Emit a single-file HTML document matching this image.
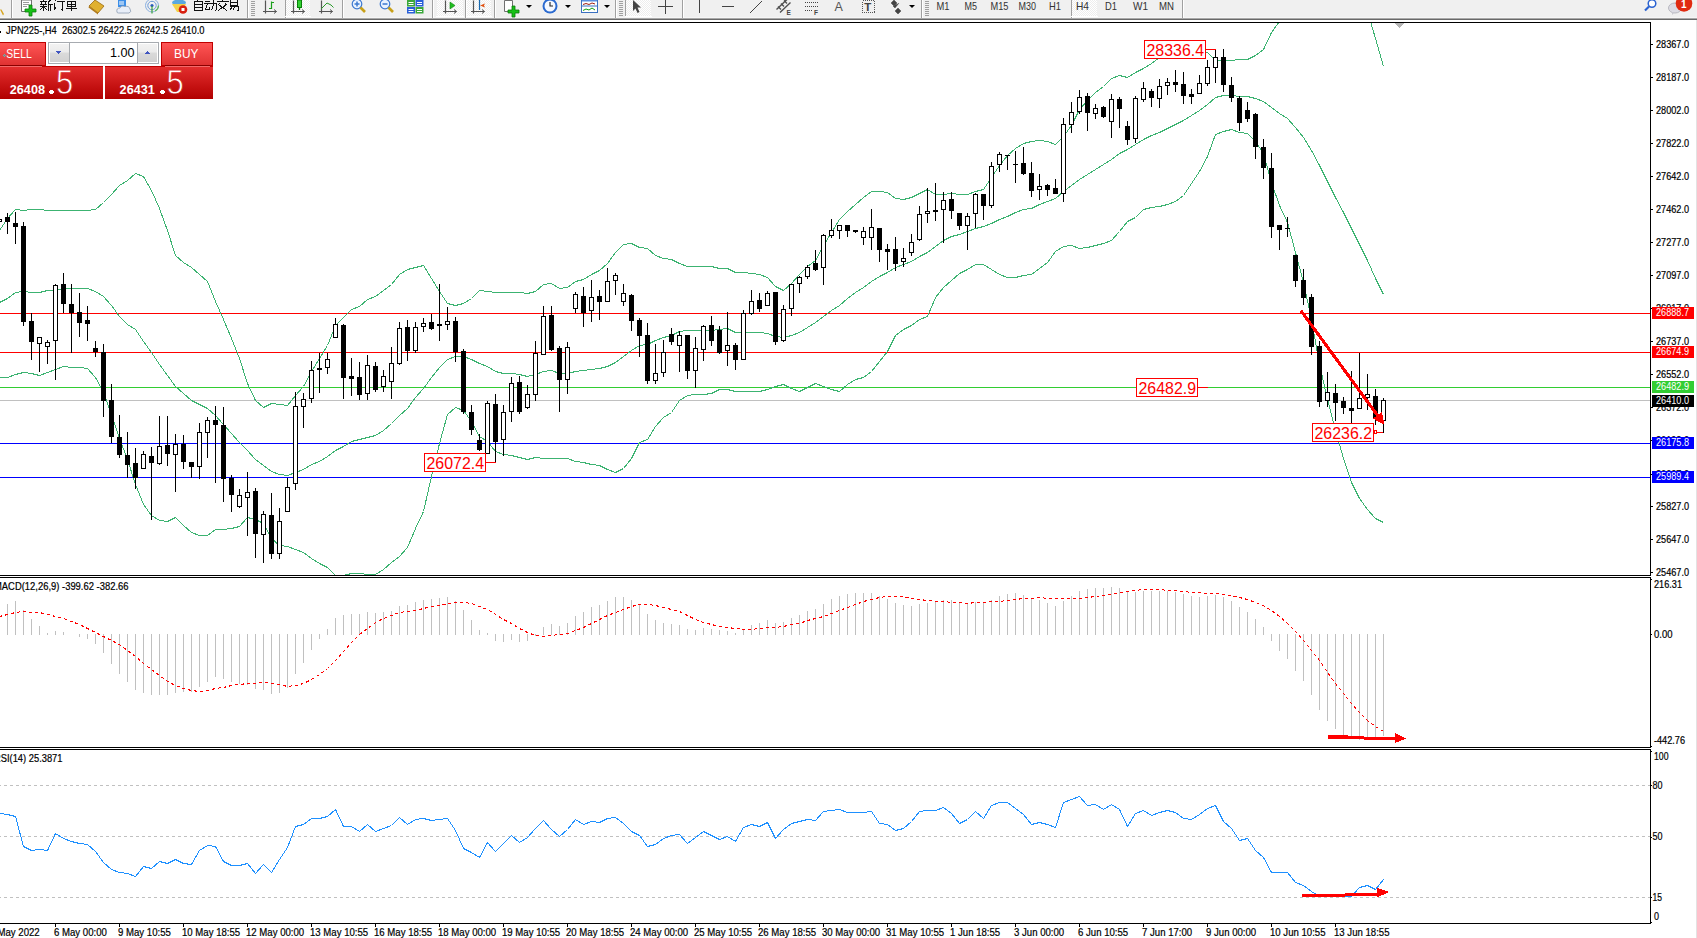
<!DOCTYPE html>
<html><head><meta charset="utf-8"><title>JPN225 H4</title>
<style>html,body{margin:0;padding:0;background:#fff;overflow:hidden}svg{display:block}text{font-family:'Liberation Sans',sans-serif}</style></head>
<body><svg width="1697" height="938" viewBox="0 0 1697 938" shape-rendering="crispEdges" style="font-family:'Liberation Sans',sans-serif">
<defs>
<clipPath id="cmain"><rect x="0" y="23" width="1650" height="552"/></clipPath>
<clipPath id="cmacd"><rect x="0" y="578" width="1650" height="169"/></clipPath>
<clipPath id="crsi"><rect x="0" y="750" width="1650" height="173"/></clipPath>
<linearGradient id="gPrice" x1="0" y1="0" x2="0" y2="1"><stop offset="0" stop-color="#e42f2f"/><stop offset="1" stop-color="#b20000"/></linearGradient>
<linearGradient id="gPriceU" gradientUnits="userSpaceOnUse" x1="0" y1="66" x2="0" y2="99"><stop offset="0" stop-color="#e42f2f"/><stop offset="1" stop-color="#b20000"/></linearGradient>
<linearGradient id="gBtn" x1="0" y1="0" x2="0" y2="1"><stop offset="0" stop-color="#ff5555"/><stop offset="1" stop-color="#e03232"/></linearGradient>
<linearGradient id="gSpin" x1="0" y1="0" x2="0" y2="1"><stop offset="0" stop-color="#f2f2f2"/><stop offset="0.45" stop-color="#ebebeb"/><stop offset="0.5" stop-color="#dadada"/><stop offset="1" stop-color="#d2d2d2"/></linearGradient>
<pattern id="pSel" width="2" height="2" patternUnits="userSpaceOnUse"><rect width="2" height="2" fill="#ffffff"/><rect width="1" height="1" fill="#ededed"/><rect x="1" y="1" width="1" height="1" fill="#ededed"/></pattern>
</defs>
<rect x="0" y="0" width="1697" height="938" fill="#ffffff"/>
<rect x="0" y="0" width="1697" height="17" fill="#f0f0f0"/>
<rect x="0" y="17" width="1697" height="1" fill="#f6f6f6"/>
<rect x="0" y="18" width="1697" height="1" fill="#a9a9a9"/>
<rect x="0" y="19" width="1697" height="1" fill="#696969"/>
<rect x="1696" y="20" width="1" height="918" fill="#e3e3e3"/>
<rect x="0" y="22" width="1651" height="1" fill="#000"/>
<rect x="0" y="575" width="1651" height="1" fill="#000"/>
<rect x="1650" y="22" width="1" height="554" fill="#000"/>
<rect x="0" y="577" width="1651" height="1" fill="#000"/>
<rect x="0" y="747" width="1651" height="1" fill="#000"/>
<rect x="1650" y="577" width="1" height="171" fill="#000"/>
<rect x="0" y="749" width="1651" height="1" fill="#000"/>
<rect x="0" y="923" width="1651" height="1" fill="#000"/>
<rect x="1650" y="749" width="1" height="175" fill="#000"/>
<g clip-path="url(#cmain)">
<rect x="0" y="313" width="1650" height="1" fill="#ff0000"/>
<rect x="0" y="352" width="1650" height="1" fill="#ff0000"/>
<rect x="0" y="387" width="1650" height="1" fill="#32cd32"/>
<rect x="0" y="400" width="1650" height="1" fill="#c0c0c0"/>
<rect x="0" y="443" width="1650" height="1" fill="#0000ff"/>
<rect x="0" y="477" width="1650" height="1" fill="#0000ff"/>
<polyline points="-0.5,230.5 7.5,218.5 15.5,209.5 23.5,210.5 31.5,209.5 39.5,209.5 47.5,210.5 55.5,210.5 63.5,210.5 71.5,210.5 79.5,210.5 87.5,210.5 95.5,209.5 103.5,202.5 111.5,194.5 119.5,185.5 127.5,180.5 135.5,173.5 143.5,176.5 151.5,190.5 159.5,208.5 167.5,230.5 175.5,255.5 183.5,262.5 191.5,267.5 199.5,274.5 207.5,281.5 215.5,301.5 223.5,319.5 231.5,338.5 239.5,358.5 247.5,383.5 255.5,400.5 263.5,407.5 271.5,403.5 279.5,404.5 287.5,405.5 295.5,395.5 303.5,386.5 311.5,371.5 319.5,358.5 327.5,345.5 335.5,325.5 343.5,317.5 351.5,309.5 359.5,306.5 367.5,299.5 375.5,296.5 383.5,290.5 391.5,284.5 399.5,274.5 407.5,269.5 415.5,267.5 423.5,265.5 431.5,278.5 439.5,291.5 447.5,303.5 455.5,305.5 463.5,303.5 471.5,298.5 479.5,290.5 487.5,291.5 495.5,292.5 503.5,292.5 511.5,292.5 519.5,292.5 527.5,293.5 535.5,291.5 543.5,284.5 551.5,283.5 559.5,288.5 567.5,287.5 575.5,281.5 583.5,279.5 591.5,274.5 599.5,270.5 607.5,263.5 615.5,252.5 623.5,244.5 631.5,243.5 639.5,247.5 647.5,248.5 655.5,255.5 663.5,258.5 671.5,259.5 679.5,263.5 687.5,266.5 695.5,266.5 703.5,266.5 711.5,266.5 719.5,268.5 727.5,268.5 735.5,272.5 743.5,272.5 751.5,273.5 759.5,274.5 767.5,277.5 775.5,286.5 783.5,290.5 791.5,283.5 799.5,274.5 807.5,266.5 815.5,260.5 823.5,245.5 831.5,232.5 839.5,219.5 847.5,211.5 855.5,204.5 863.5,197.5 871.5,191.5 879.5,191.5 887.5,192.5 895.5,198.5 903.5,199.5 911.5,197.5 919.5,193.5 927.5,189.5 935.5,194.5 943.5,194.5 951.5,193.5 959.5,194.5 967.5,194.5 975.5,191.5 983.5,189.5 991.5,177.5 999.5,165.5 1007.5,155.5 1015.5,148.5 1023.5,143.5 1031.5,141.5 1039.5,140.5 1047.5,141.5 1055.5,144.5 1063.5,136.5 1071.5,125.5 1079.5,109.5 1087.5,100.5 1095.5,92.5 1103.5,86.5 1111.5,78.5 1119.5,75.5 1127.5,77.5 1135.5,72.5 1143.5,68.5 1151.5,63.5 1159.5,57.5 1167.5,52.5 1175.5,47.5 1183.5,46.5 1191.5,48.5 1199.5,49.5 1207.5,52.5 1215.5,60.5 1223.5,60.5 1231.5,60.5 1239.5,59.5 1247.5,59.5 1255.5,55.5 1263.5,49.5 1271.5,32.5 1279.5,21.5 1287.5,13.5 1295.5,1.5 1303.5,-6.5 1311.5,-19.5 1319.5,-33.5 1327.5,-36.5 1335.5,-36.5 1343.5,-32.5 1351.5,-25.5 1359.5,-10.5 1367.5,11.5 1375.5,38.5 1383.5,66.5" fill="none" stroke="#3cb371" stroke-width="1"/>
<polyline points="-0.5,302.5 7.5,298.5 15.5,292.5 23.5,291.5 31.5,292.5 39.5,292.5 47.5,290.5 55.5,290.5 63.5,288.5 71.5,288.5 79.5,288.5 87.5,288.5 95.5,291.5 103.5,296.5 111.5,305.5 119.5,316.5 127.5,324.5 135.5,329.5 143.5,341.5 151.5,352.5 159.5,364.5 167.5,375.5 175.5,386.5 183.5,393.5 191.5,400.5 199.5,404.5 207.5,408.5 215.5,415.5 223.5,424.5 231.5,433.5 239.5,442.5 247.5,450.5 255.5,459.5 263.5,465.5 271.5,471.5 279.5,474.5 287.5,475.5 295.5,472.5 303.5,469.5 311.5,464.5 319.5,461.5 327.5,456.5 335.5,450.5 343.5,446.5 351.5,441.5 359.5,439.5 367.5,437.5 375.5,435.5 383.5,430.5 391.5,423.5 399.5,415.5 407.5,408.5 415.5,397.5 423.5,388.5 431.5,377.5 439.5,367.5 447.5,359.5 455.5,356.5 463.5,356.5 471.5,359.5 479.5,363.5 487.5,366.5 495.5,371.5 503.5,373.5 511.5,373.5 519.5,374.5 527.5,376.5 535.5,374.5 543.5,371.5 551.5,370.5 559.5,373.5 567.5,373.5 575.5,371.5 583.5,370.5 591.5,369.5 599.5,368.5 607.5,366.5 615.5,362.5 623.5,356.5 631.5,350.5 639.5,345.5 647.5,344.5 655.5,340.5 663.5,337.5 671.5,335.5 679.5,331.5 687.5,330.5 695.5,330.5 703.5,330.5 711.5,330.5 719.5,329.5 727.5,328.5 735.5,332.5 743.5,332.5 751.5,332.5 759.5,332.5 767.5,333.5 775.5,336.5 783.5,337.5 791.5,335.5 799.5,332.5 807.5,327.5 815.5,322.5 823.5,316.5 831.5,310.5 839.5,305.5 847.5,298.5 855.5,292.5 863.5,287.5 871.5,281.5 879.5,276.5 887.5,272.5 895.5,267.5 903.5,264.5 911.5,261.5 919.5,256.5 927.5,252.5 935.5,246.5 943.5,240.5 951.5,236.5 959.5,234.5 967.5,231.5 975.5,228.5 983.5,226.5 991.5,223.5 999.5,219.5 1007.5,216.5 1015.5,212.5 1023.5,209.5 1031.5,208.5 1039.5,204.5 1047.5,201.5 1055.5,198.5 1063.5,191.5 1071.5,185.5 1079.5,179.5 1087.5,174.5 1095.5,169.5 1103.5,164.5 1111.5,159.5 1119.5,153.5 1127.5,149.5 1135.5,144.5 1143.5,139.5 1151.5,135.5 1159.5,132.5 1167.5,128.5 1175.5,124.5 1183.5,120.5 1191.5,115.5 1199.5,110.5 1207.5,104.5 1215.5,97.5 1223.5,95.5 1231.5,95.5 1239.5,96.5 1247.5,96.5 1255.5,98.5 1263.5,101.5 1271.5,107.5 1279.5,113.5 1287.5,118.5 1295.5,127.5 1303.5,137.5 1311.5,150.5 1319.5,165.5 1327.5,181.5 1335.5,197.5 1343.5,212.5 1351.5,228.5 1359.5,244.5 1367.5,260.5 1375.5,278.5 1383.5,294.5" fill="none" stroke="#3cb371" stroke-width="1"/>
<polyline points="-0.5,377.5 7.5,377.5 15.5,374.5 23.5,372.5 31.5,373.5 39.5,375.5 47.5,372.5 55.5,369.5 63.5,366.5 71.5,367.5 79.5,367.5 87.5,368.5 95.5,377.5 103.5,392.5 111.5,414.5 119.5,438.5 127.5,459.5 135.5,484.5 143.5,504.5 151.5,515.5 159.5,520.5 167.5,521.5 175.5,517.5 183.5,525.5 191.5,532.5 199.5,535.5 207.5,535.5 215.5,529.5 223.5,529.5 231.5,528.5 239.5,526.5 247.5,517.5 255.5,519.5 263.5,523.5 271.5,538.5 279.5,545.5 287.5,546.5 295.5,549.5 303.5,552.5 311.5,558.5 319.5,563.5 327.5,567.5 335.5,575.5 343.5,575.5 351.5,573.5 359.5,573.5 367.5,574.5 375.5,574.5 383.5,569.5 391.5,562.5 399.5,556.5 407.5,547.5 415.5,528.5 423.5,511.5 431.5,476.5 439.5,443.5 447.5,414.5 455.5,407.5 463.5,410.5 471.5,421.5 479.5,436.5 487.5,441.5 495.5,451.5 503.5,454.5 511.5,455.5 519.5,457.5 527.5,459.5 535.5,457.5 543.5,458.5 551.5,458.5 559.5,458.5 567.5,458.5 575.5,461.5 583.5,462.5 591.5,464.5 599.5,465.5 607.5,469.5 615.5,472.5 623.5,468.5 631.5,458.5 639.5,442.5 647.5,439.5 655.5,426.5 663.5,417.5 671.5,412.5 679.5,400.5 687.5,395.5 695.5,394.5 703.5,394.5 711.5,393.5 719.5,389.5 727.5,389.5 735.5,391.5 743.5,391.5 751.5,391.5 759.5,391.5 767.5,389.5 775.5,386.5 783.5,384.5 791.5,388.5 799.5,391.5 807.5,387.5 815.5,383.5 823.5,386.5 831.5,389.5 839.5,391.5 847.5,384.5 855.5,379.5 863.5,377.5 871.5,371.5 879.5,361.5 887.5,351.5 895.5,335.5 903.5,329.5 911.5,325.5 919.5,319.5 927.5,316.5 935.5,297.5 943.5,287.5 951.5,280.5 959.5,273.5 967.5,269.5 975.5,264.5 983.5,264.5 991.5,269.5 999.5,274.5 1007.5,277.5 1015.5,277.5 1023.5,275.5 1031.5,274.5 1039.5,268.5 1047.5,262.5 1055.5,251.5 1063.5,246.5 1071.5,245.5 1079.5,248.5 1087.5,247.5 1095.5,245.5 1103.5,243.5 1111.5,240.5 1119.5,231.5 1127.5,221.5 1135.5,217.5 1143.5,209.5 1151.5,207.5 1159.5,206.5 1167.5,204.5 1175.5,201.5 1183.5,195.5 1191.5,183.5 1199.5,171.5 1207.5,156.5 1215.5,134.5 1223.5,131.5 1231.5,129.5 1239.5,132.5 1247.5,133.5 1255.5,141.5 1263.5,153.5 1271.5,182.5 1279.5,205.5 1287.5,222.5 1295.5,252.5 1303.5,282.5 1311.5,319.5 1319.5,364.5 1327.5,399.5 1335.5,430.5 1343.5,458.5 1351.5,482.5 1359.5,498.5 1367.5,509.5 1375.5,518.5 1383.5,522.5" fill="none" stroke="#3cb371" stroke-width="1"/>
<rect x="-1" y="218" width="1" height="5" fill="#000"/>
<rect x="-3" y="219" width="5" height="3" fill="#000"/>
<rect x="-2" y="220" width="3" height="1" fill="#fff"/>
<rect x="7" y="213" width="1" height="21" fill="#000"/>
<rect x="5" y="217" width="5" height="5" fill="#000"/>
<rect x="15" y="212" width="1" height="32" fill="#000"/>
<rect x="13" y="223" width="5" height="4" fill="#000"/>
<rect x="23" y="222" width="1" height="104" fill="#000"/>
<rect x="21" y="226" width="5" height="96" fill="#000"/>
<rect x="31" y="313" width="1" height="47" fill="#000"/>
<rect x="29" y="321" width="5" height="21" fill="#000"/>
<rect x="39" y="337" width="1" height="35" fill="#000"/>
<rect x="37" y="337" width="5" height="7" fill="#000"/>
<rect x="38" y="338" width="3" height="5" fill="#fff"/>
<rect x="47" y="340" width="1" height="24" fill="#000"/>
<rect x="45" y="342" width="5" height="5" fill="#000"/>
<rect x="46" y="343" width="3" height="3" fill="#fff"/>
<rect x="55" y="284" width="1" height="96" fill="#000"/>
<rect x="53" y="285" width="5" height="56" fill="#000"/>
<rect x="54" y="286" width="3" height="54" fill="#fff"/>
<rect x="63" y="273" width="1" height="40" fill="#000"/>
<rect x="61" y="284" width="5" height="20" fill="#000"/>
<rect x="71" y="284" width="1" height="69" fill="#000"/>
<rect x="69" y="304" width="5" height="9" fill="#000"/>
<rect x="79" y="293" width="1" height="44" fill="#000"/>
<rect x="77" y="312" width="5" height="11" fill="#000"/>
<rect x="87" y="306" width="1" height="35" fill="#000"/>
<rect x="85" y="320" width="5" height="4" fill="#000"/>
<rect x="95" y="341" width="1" height="16" fill="#000"/>
<rect x="93" y="348" width="5" height="4" fill="#000"/>
<rect x="103" y="344" width="1" height="73" fill="#000"/>
<rect x="101" y="352" width="5" height="49" fill="#000"/>
<rect x="111" y="384" width="1" height="59" fill="#000"/>
<rect x="109" y="400" width="5" height="37" fill="#000"/>
<rect x="119" y="415" width="1" height="43" fill="#000"/>
<rect x="117" y="437" width="5" height="18" fill="#000"/>
<rect x="127" y="432" width="1" height="46" fill="#000"/>
<rect x="125" y="455" width="5" height="10" fill="#000"/>
<rect x="135" y="448" width="1" height="41" fill="#000"/>
<rect x="133" y="463" width="5" height="15" fill="#000"/>
<rect x="143" y="451" width="1" height="18" fill="#000"/>
<rect x="141" y="454" width="5" height="15" fill="#000"/>
<rect x="142" y="455" width="3" height="13" fill="#fff"/>
<rect x="151" y="447" width="1" height="73" fill="#000"/>
<rect x="149" y="456" width="5" height="7" fill="#000"/>
<rect x="159" y="416" width="1" height="49" fill="#000"/>
<rect x="157" y="446" width="5" height="18" fill="#000"/>
<rect x="158" y="447" width="3" height="16" fill="#fff"/>
<rect x="167" y="416" width="1" height="50" fill="#000"/>
<rect x="165" y="445" width="5" height="9" fill="#000"/>
<rect x="175" y="434" width="1" height="58" fill="#000"/>
<rect x="173" y="444" width="5" height="11" fill="#000"/>
<rect x="174" y="445" width="3" height="9" fill="#fff"/>
<rect x="183" y="435" width="1" height="34" fill="#000"/>
<rect x="181" y="444" width="5" height="18" fill="#000"/>
<rect x="191" y="462" width="1" height="16" fill="#000"/>
<rect x="189" y="462" width="5" height="5" fill="#000"/>
<rect x="199" y="423" width="1" height="56" fill="#000"/>
<rect x="197" y="432" width="5" height="35" fill="#000"/>
<rect x="198" y="433" width="3" height="33" fill="#fff"/>
<rect x="207" y="417" width="1" height="41" fill="#000"/>
<rect x="205" y="420" width="5" height="13" fill="#000"/>
<rect x="206" y="421" width="3" height="11" fill="#fff"/>
<rect x="215" y="406" width="1" height="77" fill="#000"/>
<rect x="213" y="420" width="5" height="5" fill="#000"/>
<rect x="223" y="407" width="1" height="95" fill="#000"/>
<rect x="221" y="425" width="5" height="54" fill="#000"/>
<rect x="231" y="475" width="1" height="37" fill="#000"/>
<rect x="229" y="478" width="5" height="17" fill="#000"/>
<rect x="239" y="489" width="1" height="19" fill="#000"/>
<rect x="237" y="495" width="5" height="12" fill="#000"/>
<rect x="238" y="496" width="3" height="10" fill="#fff"/>
<rect x="247" y="472" width="1" height="64" fill="#000"/>
<rect x="245" y="492" width="5" height="6" fill="#000"/>
<rect x="246" y="493" width="3" height="4" fill="#fff"/>
<rect x="255" y="488" width="1" height="70" fill="#000"/>
<rect x="253" y="491" width="5" height="43" fill="#000"/>
<rect x="263" y="511" width="1" height="52" fill="#000"/>
<rect x="261" y="514" width="5" height="21" fill="#000"/>
<rect x="262" y="515" width="3" height="19" fill="#fff"/>
<rect x="271" y="493" width="1" height="66" fill="#000"/>
<rect x="269" y="515" width="5" height="39" fill="#000"/>
<rect x="279" y="508" width="1" height="51" fill="#000"/>
<rect x="277" y="521" width="5" height="33" fill="#000"/>
<rect x="278" y="522" width="3" height="31" fill="#fff"/>
<rect x="287" y="478" width="1" height="34" fill="#000"/>
<rect x="285" y="487" width="5" height="25" fill="#000"/>
<rect x="286" y="488" width="3" height="23" fill="#fff"/>
<rect x="295" y="392" width="1" height="98" fill="#000"/>
<rect x="293" y="406" width="5" height="78" fill="#000"/>
<rect x="294" y="407" width="3" height="76" fill="#fff"/>
<rect x="303" y="393" width="1" height="35" fill="#000"/>
<rect x="301" y="399" width="5" height="8" fill="#000"/>
<rect x="302" y="400" width="3" height="6" fill="#fff"/>
<rect x="311" y="361" width="1" height="42" fill="#000"/>
<rect x="309" y="370" width="5" height="29" fill="#000"/>
<rect x="310" y="371" width="3" height="27" fill="#fff"/>
<rect x="319" y="353" width="1" height="40" fill="#000"/>
<rect x="317" y="368" width="5" height="2" fill="#000"/>
<rect x="327" y="353" width="1" height="21" fill="#000"/>
<rect x="325" y="359" width="5" height="9" fill="#000"/>
<rect x="326" y="360" width="3" height="7" fill="#fff"/>
<rect x="335" y="318" width="1" height="20" fill="#000"/>
<rect x="333" y="324" width="5" height="14" fill="#000"/>
<rect x="334" y="325" width="3" height="12" fill="#fff"/>
<rect x="343" y="324" width="1" height="75" fill="#000"/>
<rect x="341" y="325" width="5" height="53" fill="#000"/>
<rect x="351" y="358" width="1" height="38" fill="#000"/>
<rect x="349" y="376" width="5" height="3" fill="#000"/>
<rect x="359" y="362" width="1" height="38" fill="#000"/>
<rect x="357" y="377" width="5" height="18" fill="#000"/>
<rect x="367" y="355" width="1" height="45" fill="#000"/>
<rect x="365" y="365" width="5" height="29" fill="#000"/>
<rect x="366" y="366" width="3" height="27" fill="#fff"/>
<rect x="375" y="362" width="1" height="30" fill="#000"/>
<rect x="373" y="366" width="5" height="24" fill="#000"/>
<rect x="383" y="370" width="1" height="22" fill="#000"/>
<rect x="381" y="376" width="5" height="11" fill="#000"/>
<rect x="382" y="377" width="3" height="9" fill="#fff"/>
<rect x="391" y="347" width="1" height="52" fill="#000"/>
<rect x="389" y="363" width="5" height="19" fill="#000"/>
<rect x="390" y="364" width="3" height="17" fill="#fff"/>
<rect x="399" y="322" width="1" height="43" fill="#000"/>
<rect x="397" y="328" width="5" height="36" fill="#000"/>
<rect x="398" y="329" width="3" height="34" fill="#fff"/>
<rect x="407" y="320" width="1" height="41" fill="#000"/>
<rect x="405" y="327" width="5" height="24" fill="#000"/>
<rect x="415" y="322" width="1" height="31" fill="#000"/>
<rect x="413" y="327" width="5" height="24" fill="#000"/>
<rect x="414" y="328" width="3" height="22" fill="#fff"/>
<rect x="423" y="318" width="1" height="14" fill="#000"/>
<rect x="421" y="323" width="5" height="4" fill="#000"/>
<rect x="422" y="324" width="3" height="2" fill="#fff"/>
<rect x="431" y="314" width="1" height="16" fill="#000"/>
<rect x="429" y="322" width="5" height="7" fill="#000"/>
<rect x="439" y="284" width="1" height="57" fill="#000"/>
<rect x="437" y="324" width="5" height="2" fill="#000"/>
<rect x="447" y="307" width="1" height="23" fill="#000"/>
<rect x="445" y="321" width="5" height="4" fill="#000"/>
<rect x="446" y="322" width="3" height="2" fill="#fff"/>
<rect x="455" y="317" width="1" height="45" fill="#000"/>
<rect x="453" y="321" width="5" height="31" fill="#000"/>
<rect x="463" y="349" width="1" height="65" fill="#000"/>
<rect x="461" y="351" width="5" height="61" fill="#000"/>
<rect x="471" y="405" width="1" height="30" fill="#000"/>
<rect x="469" y="412" width="5" height="18" fill="#000"/>
<rect x="479" y="434" width="1" height="17" fill="#000"/>
<rect x="477" y="440" width="5" height="10" fill="#000"/>
<rect x="487" y="401" width="1" height="53" fill="#000"/>
<rect x="485" y="403" width="5" height="51" fill="#000"/>
<rect x="486" y="404" width="3" height="49" fill="#fff"/>
<rect x="495" y="394" width="1" height="68" fill="#000"/>
<rect x="493" y="404" width="5" height="38" fill="#000"/>
<rect x="503" y="405" width="1" height="51" fill="#000"/>
<rect x="501" y="412" width="5" height="28" fill="#000"/>
<rect x="502" y="413" width="3" height="26" fill="#fff"/>
<rect x="511" y="377" width="1" height="45" fill="#000"/>
<rect x="509" y="383" width="5" height="29" fill="#000"/>
<rect x="510" y="384" width="3" height="27" fill="#fff"/>
<rect x="519" y="376" width="1" height="38" fill="#000"/>
<rect x="517" y="382" width="5" height="30" fill="#000"/>
<rect x="527" y="385" width="1" height="24" fill="#000"/>
<rect x="525" y="394" width="5" height="14" fill="#000"/>
<rect x="526" y="395" width="3" height="12" fill="#fff"/>
<rect x="535" y="341" width="1" height="60" fill="#000"/>
<rect x="533" y="353" width="5" height="42" fill="#000"/>
<rect x="534" y="354" width="3" height="40" fill="#fff"/>
<rect x="543" y="306" width="1" height="49" fill="#000"/>
<rect x="541" y="316" width="5" height="39" fill="#000"/>
<rect x="542" y="317" width="3" height="37" fill="#fff"/>
<rect x="551" y="306" width="1" height="45" fill="#000"/>
<rect x="549" y="315" width="5" height="35" fill="#000"/>
<rect x="559" y="346" width="1" height="66" fill="#000"/>
<rect x="557" y="348" width="5" height="32" fill="#000"/>
<rect x="567" y="342" width="1" height="52" fill="#000"/>
<rect x="565" y="347" width="5" height="33" fill="#000"/>
<rect x="566" y="348" width="3" height="31" fill="#fff"/>
<rect x="575" y="292" width="1" height="21" fill="#000"/>
<rect x="573" y="294" width="5" height="15" fill="#000"/>
<rect x="574" y="295" width="3" height="13" fill="#fff"/>
<rect x="583" y="287" width="1" height="40" fill="#000"/>
<rect x="581" y="296" width="5" height="17" fill="#000"/>
<rect x="591" y="280" width="1" height="42" fill="#000"/>
<rect x="589" y="297" width="5" height="14" fill="#000"/>
<rect x="590" y="298" width="3" height="12" fill="#fff"/>
<rect x="599" y="290" width="1" height="30" fill="#000"/>
<rect x="597" y="296" width="5" height="6" fill="#000"/>
<rect x="607" y="268" width="1" height="34" fill="#000"/>
<rect x="605" y="281" width="5" height="21" fill="#000"/>
<rect x="606" y="282" width="3" height="19" fill="#fff"/>
<rect x="615" y="273" width="1" height="22" fill="#000"/>
<rect x="613" y="275" width="5" height="6" fill="#000"/>
<rect x="614" y="276" width="3" height="4" fill="#fff"/>
<rect x="623" y="284" width="1" height="22" fill="#000"/>
<rect x="621" y="293" width="5" height="9" fill="#000"/>
<rect x="622" y="294" width="3" height="7" fill="#fff"/>
<rect x="631" y="294" width="1" height="37" fill="#000"/>
<rect x="629" y="295" width="5" height="26" fill="#000"/>
<rect x="639" y="318" width="1" height="39" fill="#000"/>
<rect x="637" y="320" width="5" height="16" fill="#000"/>
<rect x="647" y="323" width="1" height="61" fill="#000"/>
<rect x="645" y="335" width="5" height="46" fill="#000"/>
<rect x="655" y="344" width="1" height="40" fill="#000"/>
<rect x="653" y="373" width="5" height="8" fill="#000"/>
<rect x="654" y="374" width="3" height="6" fill="#fff"/>
<rect x="663" y="340" width="1" height="37" fill="#000"/>
<rect x="661" y="352" width="5" height="21" fill="#000"/>
<rect x="662" y="353" width="3" height="19" fill="#fff"/>
<rect x="671" y="328" width="1" height="17" fill="#000"/>
<rect x="669" y="334" width="5" height="8" fill="#000"/>
<rect x="679" y="331" width="1" height="41" fill="#000"/>
<rect x="677" y="335" width="5" height="11" fill="#000"/>
<rect x="678" y="336" width="3" height="9" fill="#fff"/>
<rect x="687" y="335" width="1" height="44" fill="#000"/>
<rect x="685" y="335" width="5" height="36" fill="#000"/>
<rect x="695" y="337" width="1" height="51" fill="#000"/>
<rect x="693" y="348" width="5" height="23" fill="#000"/>
<rect x="694" y="349" width="3" height="21" fill="#fff"/>
<rect x="703" y="325" width="1" height="36" fill="#000"/>
<rect x="701" y="326" width="5" height="24" fill="#000"/>
<rect x="702" y="327" width="3" height="22" fill="#fff"/>
<rect x="711" y="316" width="1" height="30" fill="#000"/>
<rect x="709" y="325" width="5" height="16" fill="#000"/>
<rect x="719" y="326" width="1" height="28" fill="#000"/>
<rect x="717" y="330" width="5" height="23" fill="#000"/>
<rect x="727" y="312" width="1" height="54" fill="#000"/>
<rect x="725" y="345" width="5" height="6" fill="#000"/>
<rect x="726" y="346" width="3" height="4" fill="#fff"/>
<rect x="735" y="343" width="1" height="27" fill="#000"/>
<rect x="733" y="345" width="5" height="15" fill="#000"/>
<rect x="743" y="310" width="1" height="50" fill="#000"/>
<rect x="741" y="313" width="5" height="47" fill="#000"/>
<rect x="742" y="314" width="3" height="45" fill="#fff"/>
<rect x="751" y="290" width="1" height="25" fill="#000"/>
<rect x="749" y="301" width="5" height="13" fill="#000"/>
<rect x="750" y="302" width="3" height="11" fill="#fff"/>
<rect x="759" y="293" width="1" height="19" fill="#000"/>
<rect x="757" y="300" width="5" height="9" fill="#000"/>
<rect x="767" y="291" width="1" height="15" fill="#000"/>
<rect x="765" y="293" width="5" height="13" fill="#000"/>
<rect x="766" y="294" width="3" height="11" fill="#fff"/>
<rect x="775" y="292" width="1" height="53" fill="#000"/>
<rect x="773" y="292" width="5" height="50" fill="#000"/>
<rect x="783" y="305" width="1" height="37" fill="#000"/>
<rect x="781" y="309" width="5" height="32" fill="#000"/>
<rect x="782" y="310" width="3" height="30" fill="#fff"/>
<rect x="791" y="284" width="1" height="32" fill="#000"/>
<rect x="789" y="284" width="5" height="25" fill="#000"/>
<rect x="790" y="285" width="3" height="23" fill="#fff"/>
<rect x="799" y="276" width="1" height="17" fill="#000"/>
<rect x="797" y="277" width="5" height="7" fill="#000"/>
<rect x="798" y="278" width="3" height="5" fill="#fff"/>
<rect x="807" y="265" width="1" height="14" fill="#000"/>
<rect x="805" y="267" width="5" height="10" fill="#000"/>
<rect x="806" y="268" width="3" height="8" fill="#fff"/>
<rect x="815" y="250" width="1" height="21" fill="#000"/>
<rect x="813" y="263" width="5" height="7" fill="#000"/>
<rect x="823" y="234" width="1" height="51" fill="#000"/>
<rect x="821" y="235" width="5" height="33" fill="#000"/>
<rect x="822" y="236" width="3" height="31" fill="#fff"/>
<rect x="831" y="219" width="1" height="19" fill="#000"/>
<rect x="829" y="230" width="5" height="6" fill="#000"/>
<rect x="830" y="231" width="3" height="4" fill="#fff"/>
<rect x="839" y="225" width="1" height="14" fill="#000"/>
<rect x="837" y="225" width="5" height="6" fill="#000"/>
<rect x="838" y="226" width="3" height="4" fill="#fff"/>
<rect x="847" y="225" width="1" height="12" fill="#000"/>
<rect x="845" y="225" width="5" height="6" fill="#000"/>
<rect x="855" y="230" width="1" height="3" fill="#000"/>
<rect x="853" y="230" width="5" height="2" fill="#000"/>
<rect x="863" y="227" width="1" height="18" fill="#000"/>
<rect x="861" y="231" width="5" height="7" fill="#000"/>
<rect x="862" y="232" width="3" height="5" fill="#fff"/>
<rect x="871" y="209" width="1" height="41" fill="#000"/>
<rect x="869" y="227" width="5" height="11" fill="#000"/>
<rect x="870" y="228" width="3" height="9" fill="#fff"/>
<rect x="879" y="228" width="1" height="34" fill="#000"/>
<rect x="877" y="228" width="5" height="22" fill="#000"/>
<rect x="887" y="244" width="1" height="26" fill="#000"/>
<rect x="885" y="249" width="5" height="3" fill="#000"/>
<rect x="895" y="237" width="1" height="34" fill="#000"/>
<rect x="893" y="249" width="5" height="15" fill="#000"/>
<rect x="903" y="248" width="1" height="19" fill="#000"/>
<rect x="901" y="258" width="5" height="4" fill="#000"/>
<rect x="902" y="259" width="3" height="2" fill="#fff"/>
<rect x="911" y="234" width="1" height="22" fill="#000"/>
<rect x="909" y="242" width="5" height="11" fill="#000"/>
<rect x="910" y="243" width="3" height="9" fill="#fff"/>
<rect x="919" y="206" width="1" height="35" fill="#000"/>
<rect x="917" y="214" width="5" height="26" fill="#000"/>
<rect x="918" y="215" width="3" height="24" fill="#fff"/>
<rect x="927" y="188" width="1" height="35" fill="#000"/>
<rect x="925" y="211" width="5" height="3" fill="#000"/>
<rect x="926" y="212" width="3" height="1" fill="#fff"/>
<rect x="935" y="183" width="1" height="38" fill="#000"/>
<rect x="933" y="210" width="5" height="2" fill="#000"/>
<rect x="943" y="192" width="1" height="51" fill="#000"/>
<rect x="941" y="200" width="5" height="10" fill="#000"/>
<rect x="942" y="201" width="3" height="8" fill="#fff"/>
<rect x="951" y="192" width="1" height="27" fill="#000"/>
<rect x="949" y="199" width="5" height="12" fill="#000"/>
<rect x="959" y="213" width="1" height="17" fill="#000"/>
<rect x="957" y="213" width="5" height="13" fill="#000"/>
<rect x="967" y="213" width="1" height="37" fill="#000"/>
<rect x="965" y="216" width="5" height="10" fill="#000"/>
<rect x="966" y="217" width="3" height="8" fill="#fff"/>
<rect x="975" y="193" width="1" height="35" fill="#000"/>
<rect x="973" y="194" width="5" height="20" fill="#000"/>
<rect x="974" y="195" width="3" height="18" fill="#fff"/>
<rect x="983" y="194" width="1" height="26" fill="#000"/>
<rect x="981" y="194" width="5" height="12" fill="#000"/>
<rect x="991" y="162" width="1" height="46" fill="#000"/>
<rect x="989" y="166" width="5" height="40" fill="#000"/>
<rect x="990" y="167" width="3" height="38" fill="#fff"/>
<rect x="999" y="152" width="1" height="20" fill="#000"/>
<rect x="997" y="154" width="5" height="11" fill="#000"/>
<rect x="998" y="155" width="3" height="9" fill="#fff"/>
<rect x="1007" y="155" width="1" height="15" fill="#000"/>
<rect x="1005" y="155" width="5" height="1" fill="#000"/>
<rect x="1015" y="151" width="1" height="32" fill="#000"/>
<rect x="1013" y="164" width="5" height="1" fill="#000"/>
<rect x="1023" y="147" width="1" height="28" fill="#000"/>
<rect x="1021" y="163" width="5" height="11" fill="#000"/>
<rect x="1031" y="162" width="1" height="35" fill="#000"/>
<rect x="1029" y="173" width="5" height="18" fill="#000"/>
<rect x="1039" y="174" width="1" height="26" fill="#000"/>
<rect x="1037" y="186" width="5" height="4" fill="#000"/>
<rect x="1038" y="187" width="3" height="2" fill="#fff"/>
<rect x="1047" y="184" width="1" height="12" fill="#000"/>
<rect x="1045" y="185" width="5" height="5" fill="#000"/>
<rect x="1055" y="179" width="1" height="15" fill="#000"/>
<rect x="1053" y="188" width="5" height="6" fill="#000"/>
<rect x="1063" y="118" width="1" height="84" fill="#000"/>
<rect x="1061" y="124" width="5" height="70" fill="#000"/>
<rect x="1062" y="125" width="3" height="68" fill="#fff"/>
<rect x="1071" y="102" width="1" height="31" fill="#000"/>
<rect x="1069" y="112" width="5" height="13" fill="#000"/>
<rect x="1070" y="113" width="3" height="11" fill="#fff"/>
<rect x="1079" y="90" width="1" height="24" fill="#000"/>
<rect x="1077" y="97" width="5" height="15" fill="#000"/>
<rect x="1078" y="98" width="3" height="13" fill="#fff"/>
<rect x="1087" y="93" width="1" height="38" fill="#000"/>
<rect x="1085" y="96" width="5" height="17" fill="#000"/>
<rect x="1095" y="104" width="1" height="15" fill="#000"/>
<rect x="1093" y="108" width="5" height="6" fill="#000"/>
<rect x="1094" y="109" width="3" height="4" fill="#fff"/>
<rect x="1103" y="106" width="1" height="12" fill="#000"/>
<rect x="1101" y="107" width="5" height="10" fill="#000"/>
<rect x="1111" y="94" width="1" height="44" fill="#000"/>
<rect x="1109" y="99" width="5" height="23" fill="#000"/>
<rect x="1110" y="100" width="3" height="21" fill="#fff"/>
<rect x="1119" y="97" width="1" height="31" fill="#000"/>
<rect x="1117" y="99" width="5" height="10" fill="#000"/>
<rect x="1127" y="121" width="1" height="24" fill="#000"/>
<rect x="1125" y="126" width="5" height="14" fill="#000"/>
<rect x="1135" y="96" width="1" height="47" fill="#000"/>
<rect x="1133" y="98" width="5" height="41" fill="#000"/>
<rect x="1134" y="99" width="3" height="39" fill="#fff"/>
<rect x="1143" y="82" width="1" height="20" fill="#000"/>
<rect x="1141" y="88" width="5" height="12" fill="#000"/>
<rect x="1142" y="89" width="3" height="10" fill="#fff"/>
<rect x="1151" y="89" width="1" height="18" fill="#000"/>
<rect x="1149" y="91" width="5" height="7" fill="#000"/>
<rect x="1159" y="79" width="1" height="29" fill="#000"/>
<rect x="1157" y="86" width="5" height="13" fill="#000"/>
<rect x="1158" y="87" width="3" height="11" fill="#fff"/>
<rect x="1167" y="78" width="1" height="17" fill="#000"/>
<rect x="1165" y="82" width="5" height="4" fill="#000"/>
<rect x="1166" y="83" width="3" height="2" fill="#fff"/>
<rect x="1175" y="70" width="1" height="22" fill="#000"/>
<rect x="1173" y="82" width="5" height="3" fill="#000"/>
<rect x="1183" y="72" width="1" height="32" fill="#000"/>
<rect x="1181" y="84" width="5" height="12" fill="#000"/>
<rect x="1191" y="89" width="1" height="15" fill="#000"/>
<rect x="1189" y="94" width="5" height="3" fill="#000"/>
<rect x="1199" y="75" width="1" height="19" fill="#000"/>
<rect x="1197" y="83" width="5" height="11" fill="#000"/>
<rect x="1198" y="84" width="3" height="9" fill="#fff"/>
<rect x="1207" y="60" width="1" height="26" fill="#000"/>
<rect x="1205" y="67" width="5" height="17" fill="#000"/>
<rect x="1206" y="68" width="3" height="15" fill="#fff"/>
<rect x="1215" y="49" width="1" height="34" fill="#000"/>
<rect x="1213" y="57" width="5" height="11" fill="#000"/>
<rect x="1214" y="58" width="3" height="9" fill="#fff"/>
<rect x="1223" y="49" width="1" height="43" fill="#000"/>
<rect x="1221" y="57" width="5" height="28" fill="#000"/>
<rect x="1231" y="77" width="1" height="25" fill="#000"/>
<rect x="1229" y="85" width="5" height="13" fill="#000"/>
<rect x="1239" y="96" width="1" height="35" fill="#000"/>
<rect x="1237" y="98" width="5" height="25" fill="#000"/>
<rect x="1247" y="102" width="1" height="20" fill="#000"/>
<rect x="1245" y="110" width="5" height="9" fill="#000"/>
<rect x="1255" y="113" width="1" height="46" fill="#000"/>
<rect x="1253" y="114" width="5" height="33" fill="#000"/>
<rect x="1263" y="139" width="1" height="40" fill="#000"/>
<rect x="1261" y="147" width="5" height="21" fill="#000"/>
<rect x="1271" y="153" width="1" height="85" fill="#000"/>
<rect x="1269" y="168" width="5" height="59" fill="#000"/>
<rect x="1279" y="225" width="1" height="25" fill="#000"/>
<rect x="1277" y="225" width="5" height="5" fill="#000"/>
<rect x="1287" y="217" width="1" height="20" fill="#000"/>
<rect x="1285" y="228" width="5" height="1" fill="#000"/>
<rect x="1295" y="255" width="1" height="32" fill="#000"/>
<rect x="1293" y="255" width="5" height="26" fill="#000"/>
<rect x="1303" y="269" width="1" height="36" fill="#000"/>
<rect x="1301" y="280" width="5" height="18" fill="#000"/>
<rect x="1311" y="294" width="1" height="61" fill="#000"/>
<rect x="1309" y="297" width="5" height="50" fill="#000"/>
<rect x="1319" y="341" width="1" height="66" fill="#000"/>
<rect x="1317" y="346" width="5" height="56" fill="#000"/>
<rect x="1327" y="372" width="1" height="35" fill="#000"/>
<rect x="1325" y="392" width="5" height="9" fill="#000"/>
<rect x="1326" y="393" width="3" height="7" fill="#fff"/>
<rect x="1335" y="384" width="1" height="37" fill="#000"/>
<rect x="1333" y="393" width="5" height="10" fill="#000"/>
<rect x="1343" y="397" width="1" height="17" fill="#000"/>
<rect x="1341" y="401" width="5" height="7" fill="#000"/>
<rect x="1351" y="371" width="1" height="52" fill="#000"/>
<rect x="1349" y="408" width="5" height="3" fill="#000"/>
<rect x="1359" y="353" width="1" height="56" fill="#000"/>
<rect x="1357" y="398" width="5" height="11" fill="#000"/>
<rect x="1358" y="399" width="3" height="9" fill="#fff"/>
<rect x="1367" y="374" width="1" height="36" fill="#000"/>
<rect x="1365" y="394" width="5" height="4" fill="#000"/>
<rect x="1366" y="395" width="3" height="2" fill="#fff"/>
<rect x="1375" y="389" width="1" height="36" fill="#000"/>
<rect x="1373" y="396" width="5" height="23" fill="#000"/>
<rect x="1383" y="398" width="1" height="35" fill="#000"/>
<rect x="1381" y="400" width="5" height="21" fill="#000"/>
<rect x="1382" y="401" width="3" height="19" fill="#fff"/>
</g>
<rect x="1144" y="40" width="62" height="19" fill="#ff0000"/>
<rect x="1145" y="41" width="60" height="17" fill="#ffffff"/>
<text x="1146.5" y="56.3" font-size="16.5" fill="#ff0000" textLength="57.5" lengthAdjust="spacingAndGlyphs">28336.4</text>
<rect x="1206" y="49" width="10" height="1" fill="#ff0000"/>
<rect x="1198" y="387" width="10" height="1" fill="#ff0000"/>
<rect x="1136" y="378" width="62" height="19" fill="#ff0000"/>
<rect x="1137" y="379" width="60" height="17" fill="#ffffff"/>
<text x="1138.5" y="394.3" font-size="16.5" fill="#ff0000" textLength="57.5" lengthAdjust="spacingAndGlyphs">26482.9</text>
<rect x="424" y="453" width="62" height="19" fill="#ff0000"/>
<rect x="425" y="454" width="60" height="17" fill="#ffffff"/>
<text x="426.5" y="468.8" font-size="16.5" fill="#ff0000" textLength="57.5" lengthAdjust="spacingAndGlyphs">26072.4</text>
<rect x="486" y="462" width="10" height="1" fill="#ff0000"/>
<rect x="1312" y="423" width="62" height="19" fill="#ff0000"/>
<rect x="1313" y="424" width="60" height="17" fill="#ffffff"/>
<text x="1314.5" y="439.3" font-size="16.5" fill="#ff0000" textLength="57.5" lengthAdjust="spacingAndGlyphs">26236.2</text>
<rect x="1374" y="430" width="3" height="4" fill="#ff0000"/>
<rect x="1375" y="431" width="1" height="2" fill="#ffffff"/>
<rect x="1377" y="432" width="6" height="1" fill="#ff0000"/>
<line x1="1301" y1="310.8" x2="1378.6" y2="416.9" stroke="#ff0000" stroke-width="3.1"/>
<polygon points="1384.5,425 1373.0,418.6 1381.9,412.1" fill="#ff0000"/>
<rect x="1651" y="44" width="2" height="1" fill="#000"/>
<text x="1656" y="48" font-size="10.3" fill="#000" textLength="33" lengthAdjust="spacingAndGlyphs" stroke="#000" stroke-width="0.2">28367.0</text>
<rect x="1651" y="77" width="2" height="1" fill="#000"/>
<text x="1656" y="81" font-size="10.3" fill="#000" textLength="33" lengthAdjust="spacingAndGlyphs" stroke="#000" stroke-width="0.2">28187.0</text>
<rect x="1651" y="110" width="2" height="1" fill="#000"/>
<text x="1656" y="114" font-size="10.3" fill="#000" textLength="33" lengthAdjust="spacingAndGlyphs" stroke="#000" stroke-width="0.2">28002.0</text>
<rect x="1651" y="143" width="2" height="1" fill="#000"/>
<text x="1656" y="147" font-size="10.3" fill="#000" textLength="33" lengthAdjust="spacingAndGlyphs" stroke="#000" stroke-width="0.2">27822.0</text>
<rect x="1651" y="176" width="2" height="1" fill="#000"/>
<text x="1656" y="180" font-size="10.3" fill="#000" textLength="33" lengthAdjust="spacingAndGlyphs" stroke="#000" stroke-width="0.2">27642.0</text>
<rect x="1651" y="209" width="2" height="1" fill="#000"/>
<text x="1656" y="213" font-size="10.3" fill="#000" textLength="33" lengthAdjust="spacingAndGlyphs" stroke="#000" stroke-width="0.2">27462.0</text>
<rect x="1651" y="242" width="2" height="1" fill="#000"/>
<text x="1656" y="246" font-size="10.3" fill="#000" textLength="33" lengthAdjust="spacingAndGlyphs" stroke="#000" stroke-width="0.2">27277.0</text>
<rect x="1651" y="275" width="2" height="1" fill="#000"/>
<text x="1656" y="279" font-size="10.3" fill="#000" textLength="33" lengthAdjust="spacingAndGlyphs" stroke="#000" stroke-width="0.2">27097.0</text>
<rect x="1651" y="308" width="2" height="1" fill="#000"/>
<text x="1656" y="312" font-size="10.3" fill="#000" textLength="33" lengthAdjust="spacingAndGlyphs" stroke="#000" stroke-width="0.2">26917.0</text>
<rect x="1651" y="341" width="2" height="1" fill="#000"/>
<text x="1656" y="345" font-size="10.3" fill="#000" textLength="33" lengthAdjust="spacingAndGlyphs" stroke="#000" stroke-width="0.2">26737.0</text>
<rect x="1651" y="374" width="2" height="1" fill="#000"/>
<text x="1656" y="378" font-size="10.3" fill="#000" textLength="33" lengthAdjust="spacingAndGlyphs" stroke="#000" stroke-width="0.2">26552.0</text>
<rect x="1651" y="407" width="2" height="1" fill="#000"/>
<text x="1656" y="411" font-size="10.3" fill="#000" textLength="33" lengthAdjust="spacingAndGlyphs" stroke="#000" stroke-width="0.2">26372.0</text>
<rect x="1651" y="440" width="2" height="1" fill="#000"/>
<text x="1656" y="444" font-size="10.3" fill="#000" textLength="33" lengthAdjust="spacingAndGlyphs" stroke="#000" stroke-width="0.2">26192.0</text>
<rect x="1651" y="474" width="2" height="1" fill="#000"/>
<text x="1656" y="478" font-size="10.3" fill="#000" textLength="33" lengthAdjust="spacingAndGlyphs" stroke="#000" stroke-width="0.2">26007.0</text>
<rect x="1651" y="506" width="2" height="1" fill="#000"/>
<text x="1656" y="510" font-size="10.3" fill="#000" textLength="33" lengthAdjust="spacingAndGlyphs" stroke="#000" stroke-width="0.2">25827.0</text>
<rect x="1651" y="539" width="2" height="1" fill="#000"/>
<text x="1656" y="543" font-size="10.3" fill="#000" textLength="33" lengthAdjust="spacingAndGlyphs" stroke="#000" stroke-width="0.2">25647.0</text>
<rect x="1651" y="572" width="2" height="1" fill="#000"/>
<text x="1656" y="576" font-size="10.3" fill="#000" textLength="33" lengthAdjust="spacingAndGlyphs" stroke="#000" stroke-width="0.2">25467.0</text>
<rect x="1652" y="307" width="42" height="12" fill="#ff0000"/>
<text x="1656" y="316" font-size="10.3" fill="#fff" textLength="33" lengthAdjust="spacingAndGlyphs">26888.7</text>
<rect x="1652" y="346" width="42" height="12" fill="#ff0000"/>
<text x="1656" y="355" font-size="10.3" fill="#fff" textLength="33" lengthAdjust="spacingAndGlyphs">26674.9</text>
<rect x="1652" y="381" width="42" height="12" fill="#32cd32"/>
<text x="1656" y="390" font-size="10.3" fill="#fff" textLength="33" lengthAdjust="spacingAndGlyphs">26482.9</text>
<rect x="1652" y="395" width="42" height="12" fill="#000000"/>
<text x="1656" y="404" font-size="10.3" fill="#fff" textLength="33" lengthAdjust="spacingAndGlyphs">26410.0</text>
<rect x="1652" y="437" width="42" height="12" fill="#0000ff"/>
<text x="1656" y="446" font-size="10.3" fill="#fff" textLength="33" lengthAdjust="spacingAndGlyphs">26175.8</text>
<rect x="1652" y="471" width="42" height="12" fill="#0000ff"/>
<text x="1656" y="480" font-size="10.3" fill="#fff" textLength="33" lengthAdjust="spacingAndGlyphs">25989.4</text>
<g clip-path="url(#cmacd)">
<rect x="-1" y="609" width="1" height="26" fill="#c0c0c0"/>
<rect x="7" y="604" width="1" height="31" fill="#c0c0c0"/>
<rect x="15" y="601" width="1" height="34" fill="#c0c0c0"/>
<rect x="23" y="610" width="1" height="25" fill="#c0c0c0"/>
<rect x="31" y="619" width="1" height="16" fill="#c0c0c0"/>
<rect x="39" y="626" width="1" height="9" fill="#c0c0c0"/>
<rect x="47" y="633" width="1" height="2" fill="#c0c0c0"/>
<rect x="55" y="631" width="1" height="4" fill="#c0c0c0"/>
<rect x="63" y="632" width="1" height="3" fill="#c0c0c0"/>
<rect x="79" y="634" width="1" height="3" fill="#c0c0c0"/>
<rect x="87" y="634" width="1" height="5" fill="#c0c0c0"/>
<rect x="95" y="634" width="1" height="10" fill="#c0c0c0"/>
<rect x="103" y="634" width="1" height="19" fill="#c0c0c0"/>
<rect x="111" y="634" width="1" height="30" fill="#c0c0c0"/>
<rect x="119" y="634" width="1" height="40" fill="#c0c0c0"/>
<rect x="127" y="634" width="1" height="48" fill="#c0c0c0"/>
<rect x="135" y="634" width="1" height="56" fill="#c0c0c0"/>
<rect x="143" y="634" width="1" height="59" fill="#c0c0c0"/>
<rect x="151" y="634" width="1" height="61" fill="#c0c0c0"/>
<rect x="159" y="634" width="1" height="61" fill="#c0c0c0"/>
<rect x="167" y="634" width="1" height="61" fill="#c0c0c0"/>
<rect x="175" y="634" width="1" height="59" fill="#c0c0c0"/>
<rect x="183" y="634" width="1" height="58" fill="#c0c0c0"/>
<rect x="191" y="634" width="1" height="58" fill="#c0c0c0"/>
<rect x="199" y="634" width="1" height="53" fill="#c0c0c0"/>
<rect x="207" y="634" width="1" height="48" fill="#c0c0c0"/>
<rect x="215" y="634" width="1" height="43" fill="#c0c0c0"/>
<rect x="223" y="634" width="1" height="45" fill="#c0c0c0"/>
<rect x="231" y="634" width="1" height="48" fill="#c0c0c0"/>
<rect x="239" y="634" width="1" height="50" fill="#c0c0c0"/>
<rect x="247" y="634" width="1" height="51" fill="#c0c0c0"/>
<rect x="255" y="634" width="1" height="55" fill="#c0c0c0"/>
<rect x="263" y="634" width="1" height="56" fill="#c0c0c0"/>
<rect x="271" y="634" width="1" height="60" fill="#c0c0c0"/>
<rect x="279" y="634" width="1" height="59" fill="#c0c0c0"/>
<rect x="287" y="634" width="1" height="54" fill="#c0c0c0"/>
<rect x="295" y="634" width="1" height="40" fill="#c0c0c0"/>
<rect x="303" y="634" width="1" height="29" fill="#c0c0c0"/>
<rect x="311" y="634" width="1" height="16" fill="#c0c0c0"/>
<rect x="319" y="634" width="1" height="5" fill="#c0c0c0"/>
<rect x="327" y="629" width="1" height="6" fill="#c0c0c0"/>
<rect x="335" y="618" width="1" height="17" fill="#c0c0c0"/>
<rect x="343" y="615" width="1" height="20" fill="#c0c0c0"/>
<rect x="351" y="614" width="1" height="21" fill="#c0c0c0"/>
<rect x="359" y="614" width="1" height="21" fill="#c0c0c0"/>
<rect x="367" y="612" width="1" height="23" fill="#c0c0c0"/>
<rect x="375" y="613" width="1" height="22" fill="#c0c0c0"/>
<rect x="383" y="612" width="1" height="23" fill="#c0c0c0"/>
<rect x="391" y="611" width="1" height="24" fill="#c0c0c0"/>
<rect x="399" y="606" width="1" height="29" fill="#c0c0c0"/>
<rect x="407" y="605" width="1" height="30" fill="#c0c0c0"/>
<rect x="415" y="602" width="1" height="33" fill="#c0c0c0"/>
<rect x="423" y="600" width="1" height="35" fill="#c0c0c0"/>
<rect x="431" y="599" width="1" height="36" fill="#c0c0c0"/>
<rect x="439" y="598" width="1" height="37" fill="#c0c0c0"/>
<rect x="447" y="597" width="1" height="38" fill="#c0c0c0"/>
<rect x="455" y="601" width="1" height="34" fill="#c0c0c0"/>
<rect x="463" y="610" width="1" height="25" fill="#c0c0c0"/>
<rect x="471" y="620" width="1" height="15" fill="#c0c0c0"/>
<rect x="479" y="630" width="1" height="5" fill="#c0c0c0"/>
<rect x="487" y="633" width="1" height="2" fill="#c0c0c0"/>
<rect x="495" y="634" width="1" height="7" fill="#c0c0c0"/>
<rect x="503" y="634" width="1" height="8" fill="#c0c0c0"/>
<rect x="511" y="634" width="1" height="6" fill="#c0c0c0"/>
<rect x="519" y="634" width="1" height="8" fill="#c0c0c0"/>
<rect x="527" y="634" width="1" height="7" fill="#c0c0c0"/>
<rect x="535" y="634" width="1" height="2" fill="#c0c0c0"/>
<rect x="543" y="627" width="1" height="8" fill="#c0c0c0"/>
<rect x="551" y="624" width="1" height="11" fill="#c0c0c0"/>
<rect x="559" y="626" width="1" height="9" fill="#c0c0c0"/>
<rect x="567" y="623" width="1" height="12" fill="#c0c0c0"/>
<rect x="575" y="616" width="1" height="19" fill="#c0c0c0"/>
<rect x="583" y="612" width="1" height="23" fill="#c0c0c0"/>
<rect x="591" y="607" width="1" height="28" fill="#c0c0c0"/>
<rect x="599" y="605" width="1" height="30" fill="#c0c0c0"/>
<rect x="607" y="601" width="1" height="34" fill="#c0c0c0"/>
<rect x="615" y="597" width="1" height="38" fill="#c0c0c0"/>
<rect x="623" y="597" width="1" height="38" fill="#c0c0c0"/>
<rect x="631" y="600" width="1" height="35" fill="#c0c0c0"/>
<rect x="639" y="605" width="1" height="30" fill="#c0c0c0"/>
<rect x="647" y="614" width="1" height="21" fill="#c0c0c0"/>
<rect x="655" y="620" width="1" height="15" fill="#c0c0c0"/>
<rect x="663" y="623" width="1" height="12" fill="#c0c0c0"/>
<rect x="671" y="624" width="1" height="11" fill="#c0c0c0"/>
<rect x="679" y="625" width="1" height="10" fill="#c0c0c0"/>
<rect x="687" y="629" width="1" height="6" fill="#c0c0c0"/>
<rect x="695" y="630" width="1" height="5" fill="#c0c0c0"/>
<rect x="703" y="628" width="1" height="7" fill="#c0c0c0"/>
<rect x="711" y="629" width="1" height="6" fill="#c0c0c0"/>
<rect x="719" y="630" width="1" height="5" fill="#c0c0c0"/>
<rect x="727" y="631" width="1" height="4" fill="#c0c0c0"/>
<rect x="735" y="633" width="1" height="2" fill="#c0c0c0"/>
<rect x="743" y="629" width="1" height="6" fill="#c0c0c0"/>
<rect x="751" y="625" width="1" height="10" fill="#c0c0c0"/>
<rect x="759" y="623" width="1" height="12" fill="#c0c0c0"/>
<rect x="767" y="620" width="1" height="15" fill="#c0c0c0"/>
<rect x="775" y="623" width="1" height="12" fill="#c0c0c0"/>
<rect x="783" y="622" width="1" height="13" fill="#c0c0c0"/>
<rect x="791" y="618" width="1" height="17" fill="#c0c0c0"/>
<rect x="799" y="615" width="1" height="20" fill="#c0c0c0"/>
<rect x="807" y="611" width="1" height="24" fill="#c0c0c0"/>
<rect x="815" y="609" width="1" height="26" fill="#c0c0c0"/>
<rect x="823" y="604" width="1" height="31" fill="#c0c0c0"/>
<rect x="831" y="599" width="1" height="36" fill="#c0c0c0"/>
<rect x="839" y="596" width="1" height="39" fill="#c0c0c0"/>
<rect x="847" y="594" width="1" height="41" fill="#c0c0c0"/>
<rect x="855" y="593" width="1" height="42" fill="#c0c0c0"/>
<rect x="863" y="593" width="1" height="42" fill="#c0c0c0"/>
<rect x="871" y="593" width="1" height="42" fill="#c0c0c0"/>
<rect x="879" y="596" width="1" height="39" fill="#c0c0c0"/>
<rect x="887" y="599" width="1" height="36" fill="#c0c0c0"/>
<rect x="895" y="603" width="1" height="32" fill="#c0c0c0"/>
<rect x="903" y="605" width="1" height="30" fill="#c0c0c0"/>
<rect x="911" y="606" width="1" height="29" fill="#c0c0c0"/>
<rect x="919" y="604" width="1" height="31" fill="#c0c0c0"/>
<rect x="927" y="603" width="1" height="32" fill="#c0c0c0"/>
<rect x="935" y="602" width="1" height="33" fill="#c0c0c0"/>
<rect x="943" y="600" width="1" height="35" fill="#c0c0c0"/>
<rect x="951" y="600" width="1" height="35" fill="#c0c0c0"/>
<rect x="959" y="603" width="1" height="32" fill="#c0c0c0"/>
<rect x="967" y="604" width="1" height="31" fill="#c0c0c0"/>
<rect x="975" y="602" width="1" height="33" fill="#c0c0c0"/>
<rect x="983" y="603" width="1" height="32" fill="#c0c0c0"/>
<rect x="991" y="600" width="1" height="35" fill="#c0c0c0"/>
<rect x="999" y="596" width="1" height="39" fill="#c0c0c0"/>
<rect x="1007" y="594" width="1" height="41" fill="#c0c0c0"/>
<rect x="1015" y="593" width="1" height="42" fill="#c0c0c0"/>
<rect x="1023" y="595" width="1" height="40" fill="#c0c0c0"/>
<rect x="1031" y="598" width="1" height="37" fill="#c0c0c0"/>
<rect x="1039" y="600" width="1" height="35" fill="#c0c0c0"/>
<rect x="1047" y="603" width="1" height="32" fill="#c0c0c0"/>
<rect x="1055" y="606" width="1" height="29" fill="#c0c0c0"/>
<rect x="1063" y="601" width="1" height="34" fill="#c0c0c0"/>
<rect x="1071" y="596" width="1" height="39" fill="#c0c0c0"/>
<rect x="1079" y="591" width="1" height="44" fill="#c0c0c0"/>
<rect x="1087" y="589" width="1" height="46" fill="#c0c0c0"/>
<rect x="1095" y="588" width="1" height="47" fill="#c0c0c0"/>
<rect x="1103" y="588" width="1" height="47" fill="#c0c0c0"/>
<rect x="1111" y="587" width="1" height="48" fill="#c0c0c0"/>
<rect x="1119" y="588" width="1" height="47" fill="#c0c0c0"/>
<rect x="1127" y="592" width="1" height="43" fill="#c0c0c0"/>
<rect x="1135" y="592" width="1" height="43" fill="#c0c0c0"/>
<rect x="1143" y="591" width="1" height="44" fill="#c0c0c0"/>
<rect x="1151" y="591" width="1" height="44" fill="#c0c0c0"/>
<rect x="1159" y="591" width="1" height="44" fill="#c0c0c0"/>
<rect x="1167" y="591" width="1" height="44" fill="#c0c0c0"/>
<rect x="1175" y="592" width="1" height="43" fill="#c0c0c0"/>
<rect x="1183" y="594" width="1" height="41" fill="#c0c0c0"/>
<rect x="1191" y="596" width="1" height="39" fill="#c0c0c0"/>
<rect x="1199" y="597" width="1" height="38" fill="#c0c0c0"/>
<rect x="1207" y="596" width="1" height="39" fill="#c0c0c0"/>
<rect x="1215" y="595" width="1" height="40" fill="#c0c0c0"/>
<rect x="1223" y="597" width="1" height="38" fill="#c0c0c0"/>
<rect x="1231" y="601" width="1" height="34" fill="#c0c0c0"/>
<rect x="1239" y="607" width="1" height="28" fill="#c0c0c0"/>
<rect x="1247" y="612" width="1" height="23" fill="#c0c0c0"/>
<rect x="1255" y="619" width="1" height="16" fill="#c0c0c0"/>
<rect x="1263" y="627" width="1" height="8" fill="#c0c0c0"/>
<rect x="1271" y="634" width="1" height="7" fill="#c0c0c0"/>
<rect x="1279" y="634" width="1" height="17" fill="#c0c0c0"/>
<rect x="1287" y="634" width="1" height="25" fill="#c0c0c0"/>
<rect x="1295" y="634" width="1" height="37" fill="#c0c0c0"/>
<rect x="1303" y="634" width="1" height="47" fill="#c0c0c0"/>
<rect x="1311" y="634" width="1" height="61" fill="#c0c0c0"/>
<rect x="1319" y="634" width="1" height="76" fill="#c0c0c0"/>
<rect x="1327" y="634" width="1" height="87" fill="#c0c0c0"/>
<rect x="1335" y="634" width="1" height="95" fill="#c0c0c0"/>
<rect x="1343" y="634" width="1" height="101" fill="#c0c0c0"/>
<rect x="1351" y="634" width="1" height="105" fill="#c0c0c0"/>
<rect x="1359" y="634" width="1" height="106" fill="#c0c0c0"/>
<rect x="1367" y="634" width="1" height="105" fill="#c0c0c0"/>
<rect x="1375" y="634" width="1" height="105" fill="#c0c0c0"/>
<rect x="1383" y="634" width="1" height="102" fill="#c0c0c0"/>
<polyline points="-0.5,616.5 7.5,614.5 15.5,612.5 23.5,611.5 31.5,612.5 39.5,612.5 47.5,614.5 55.5,616.5 63.5,618.5 71.5,621.5 79.5,624.5 87.5,628.5 95.5,632.5 103.5,636.5 111.5,640.5 119.5,644.5 127.5,650.5 135.5,656.5 143.5,663.5 151.5,669.5 159.5,675.5 167.5,681.5 175.5,685.5 183.5,688.5 191.5,690.5 199.5,691.5 207.5,690.5 215.5,688.5 223.5,687.5 231.5,685.5 239.5,684.5 247.5,683.5 255.5,683.5 263.5,682.5 271.5,683.5 279.5,684.5 287.5,686.5 295.5,685.5 303.5,683.5 311.5,679.5 319.5,674.5 327.5,668.5 335.5,660.5 343.5,651.5 351.5,642.5 359.5,634.5 367.5,628.5 375.5,622.5 383.5,618.5 391.5,615.5 399.5,612.5 407.5,611.5 415.5,610.5 423.5,608.5 431.5,606.5 439.5,605.5 447.5,603.5 455.5,602.5 463.5,602.5 471.5,603.5 479.5,606.5 487.5,609.5 495.5,614.5 503.5,619.5 511.5,623.5 519.5,628.5 527.5,632.5 535.5,635.5 543.5,636.5 551.5,635.5 559.5,634.5 567.5,633.5 575.5,630.5 583.5,627.5 591.5,623.5 599.5,619.5 607.5,615.5 615.5,612.5 623.5,609.5 631.5,606.5 639.5,604.5 647.5,604.5 655.5,605.5 663.5,607.5 671.5,609.5 679.5,611.5 687.5,615.5 695.5,619.5 703.5,622.5 711.5,624.5 719.5,626.5 727.5,627.5 735.5,628.5 743.5,629.5 751.5,629.5 759.5,628.5 767.5,627.5 775.5,627.5 783.5,626.5 791.5,624.5 799.5,623.5 807.5,620.5 815.5,618.5 823.5,616.5 831.5,613.5 839.5,610.5 847.5,607.5 855.5,604.5 863.5,601.5 871.5,599.5 879.5,597.5 887.5,596.5 895.5,596.5 903.5,596.5 911.5,598.5 919.5,599.5 927.5,600.5 935.5,601.5 943.5,601.5 951.5,602.5 959.5,602.5 967.5,603.5 975.5,602.5 983.5,602.5 991.5,601.5 999.5,601.5 1007.5,600.5 1015.5,599.5 1023.5,598.5 1031.5,598.5 1039.5,597.5 1047.5,598.5 1055.5,598.5 1063.5,598.5 1071.5,598.5 1079.5,598.5 1087.5,597.5 1095.5,596.5 1103.5,595.5 1111.5,594.5 1119.5,592.5 1127.5,591.5 1135.5,590.5 1143.5,589.5 1151.5,589.5 1159.5,589.5 1167.5,590.5 1175.5,590.5 1183.5,591.5 1191.5,592.5 1199.5,592.5 1207.5,593.5 1215.5,593.5 1223.5,594.5 1231.5,595.5 1239.5,597.5 1247.5,599.5 1255.5,602.5 1263.5,605.5 1271.5,610.5 1279.5,616.5 1287.5,623.5 1295.5,631.5 1303.5,640.5 1311.5,650.5 1319.5,660.5 1327.5,672.5 1335.5,683.5 1343.5,693.5 1351.5,703.5 1359.5,712.5 1367.5,720.5 1375.5,726.5 1383.5,731.5" fill="none" stroke="#ff0000" stroke-width="1" stroke-dasharray="3,3"/>
</g>
<text x="-6" y="589.8" font-size="10.3" fill="#000" textLength="134.5" lengthAdjust="spacingAndGlyphs" stroke="#000" stroke-width="0.2">MACD(12,26,9) -399.62 -382.66</text>
<polygon points="1328,735 1348,735 1348,736 1364,736 1364,737 1395,737 1395,733 1406,738.5 1395,743 1395,740 1364,740 1364,739 1348,739 1348,738.5 1328,738.5" fill="#ff0000"/>
<rect x="1651" y="579" width="1" height="1" fill="#000"/>
<rect x="1651" y="634" width="1" height="1" fill="#000"/>
<rect x="1651" y="746" width="1" height="1" fill="#000"/>
<text x="1654" y="588" font-size="10.3" fill="#000" textLength="28" lengthAdjust="spacingAndGlyphs" stroke="#000" stroke-width="0.2">216.31</text>
<text x="1654" y="638" font-size="10.3" fill="#000" textLength="18.5" lengthAdjust="spacingAndGlyphs" stroke="#000" stroke-width="0.2">0.00</text>
<text x="1654" y="744" font-size="10.3" fill="#000" textLength="31" lengthAdjust="spacingAndGlyphs" stroke="#000" stroke-width="0.2">-442.76</text>
<g clip-path="url(#crsi)">
<line x1="0" y1="785.5" x2="1650" y2="785.5" stroke="#c0c0c0" stroke-width="1" stroke-dasharray="3,3" stroke-dashoffset="2"/>
<line x1="0" y1="836.5" x2="1650" y2="836.5" stroke="#c0c0c0" stroke-width="1" stroke-dasharray="3,3" stroke-dashoffset="2"/>
<line x1="0" y1="897.5" x2="1650" y2="897.5" stroke="#c0c0c0" stroke-width="1" stroke-dasharray="3,3" stroke-dashoffset="2"/>
<polyline points="-0.5,813.5 7.5,814.5 15.5,816.5 23.5,846.5 31.5,850.5 39.5,849.5 47.5,850.5 55.5,833.5 63.5,838.5 71.5,841.5 79.5,843.5 87.5,844.5 95.5,851.5 103.5,862.5 111.5,869.5 119.5,872.5 127.5,873.5 135.5,876.5 143.5,866.5 151.5,868.5 159.5,861.5 167.5,863.5 175.5,859.5 183.5,863.5 191.5,864.5 199.5,850.5 207.5,845.5 215.5,846.5 223.5,861.5 231.5,865.5 239.5,865.5 247.5,863.5 255.5,873.5 263.5,864.5 271.5,872.5 279.5,859.5 287.5,847.5 295.5,826.5 303.5,824.5 311.5,818.5 319.5,818.5 327.5,816.5 335.5,809.5 343.5,826.5 351.5,826.5 359.5,831.5 367.5,824.5 375.5,831.5 383.5,828.5 391.5,825.5 399.5,817.5 407.5,824.5 415.5,819.5 423.5,818.5 431.5,820.5 439.5,819.5 447.5,818.5 455.5,830.5 463.5,848.5 471.5,852.5 479.5,857.5 487.5,842.5 495.5,851.5 503.5,843.5 511.5,835.5 519.5,842.5 527.5,837.5 535.5,828.5 543.5,820.5 551.5,829.5 559.5,836.5 567.5,829.5 575.5,819.5 583.5,824.5 591.5,821.5 599.5,822.5 607.5,818.5 615.5,817.5 623.5,823.5 631.5,831.5 639.5,835.5 647.5,846.5 655.5,844.5 663.5,838.5 671.5,835.5 679.5,834.5 687.5,843.5 695.5,837.5 703.5,831.5 711.5,835.5 719.5,839.5 727.5,836.5 735.5,841.5 743.5,827.5 751.5,824.5 759.5,826.5 767.5,822.5 775.5,838.5 783.5,829.5 791.5,823.5 799.5,821.5 807.5,819.5 815.5,820.5 823.5,811.5 831.5,810.5 839.5,809.5 847.5,812.5 855.5,812.5 863.5,812.5 871.5,811.5 879.5,823.5 887.5,824.5 895.5,830.5 903.5,828.5 911.5,821.5 919.5,811.5 927.5,810.5 935.5,810.5 943.5,807.5 951.5,813.5 959.5,823.5 967.5,819.5 975.5,811.5 983.5,818.5 991.5,805.5 999.5,802.5 1007.5,802.5 1015.5,808.5 1023.5,814.5 1031.5,824.5 1039.5,822.5 1047.5,824.5 1055.5,827.5 1063.5,802.5 1071.5,799.5 1079.5,796.5 1087.5,805.5 1095.5,804.5 1103.5,809.5 1111.5,804.5 1119.5,809.5 1127.5,826.5 1135.5,813.5 1143.5,810.5 1151.5,815.5 1159.5,812.5 1167.5,810.5 1175.5,812.5 1183.5,818.5 1191.5,819.5 1199.5,814.5 1207.5,808.5 1215.5,805.5 1223.5,821.5 1231.5,828.5 1239.5,840.5 1247.5,838.5 1255.5,850.5 1263.5,857.5 1271.5,872.5 1279.5,872.5 1287.5,872.5 1295.5,882.5 1303.5,885.5 1311.5,891.5 1319.5,896.5 1327.5,894.5 1335.5,895.5 1343.5,896.5 1351.5,896.5 1359.5,887.5 1367.5,885.5 1375.5,889.5 1383.5,879.5" fill="none" stroke="#1e90ff" stroke-width="1"/>
</g>
<text x="-6" y="762" font-size="10.3" fill="#000" textLength="68.5" lengthAdjust="spacingAndGlyphs" stroke="#000" stroke-width="0.2">RSI(14) 25.3871</text>
<polygon points="1302,893.5 1345,893.5 1345,892.5 1377,892.5 1377,888 1389,892 1377,897.5 1377,895.5 1345,895.5 1345,896.5 1302,896.5" fill="#ff0000"/>
<rect x="1651" y="751" width="1" height="1" fill="#000"/>
<rect x="1651" y="785" width="1" height="1" fill="#000"/>
<rect x="1651" y="837" width="1" height="1" fill="#000"/>
<rect x="1651" y="897" width="1" height="1" fill="#000"/>
<rect x="1651" y="922" width="1" height="1" fill="#000"/>
<text x="1654" y="760" font-size="10.3" fill="#000" textLength="14.5" lengthAdjust="spacingAndGlyphs" stroke="#000" stroke-width="0.2">100</text>
<text x="1652.6" y="789" font-size="10.3" fill="#000" textLength="10" lengthAdjust="spacingAndGlyphs" stroke="#000" stroke-width="0.2">80</text>
<text x="1652.6" y="840" font-size="10.3" fill="#000" textLength="10" lengthAdjust="spacingAndGlyphs" stroke="#000" stroke-width="0.2">50</text>
<text x="1652.6" y="901" font-size="10.3" fill="#000" textLength="9.5" lengthAdjust="spacingAndGlyphs" stroke="#000" stroke-width="0.2">15</text>
<text x="1654" y="920" font-size="10.3" fill="#000" textLength="5" lengthAdjust="spacingAndGlyphs" stroke="#000" stroke-width="0.2">0</text>
<rect x="55" y="924" width="1" height="3" fill="#000"/>
<text x="54" y="936" font-size="10.3" fill="#000" textLength="52.83" lengthAdjust="spacingAndGlyphs" stroke="#000" stroke-width="0.2">6 May 00:00</text>
<rect x="119" y="924" width="1" height="3" fill="#000"/>
<text x="118" y="936" font-size="10.3" fill="#000" textLength="52.83" lengthAdjust="spacingAndGlyphs" stroke="#000" stroke-width="0.2">9 May 10:55</text>
<rect x="183" y="924" width="1" height="3" fill="#000"/>
<text x="182" y="936" font-size="10.3" fill="#000" textLength="58.17" lengthAdjust="spacingAndGlyphs" stroke="#000" stroke-width="0.2">10 May 18:55</text>
<rect x="247" y="924" width="1" height="3" fill="#000"/>
<text x="246" y="936" font-size="10.3" fill="#000" textLength="58.17" lengthAdjust="spacingAndGlyphs" stroke="#000" stroke-width="0.2">12 May 00:00</text>
<rect x="311" y="924" width="1" height="3" fill="#000"/>
<text x="310" y="936" font-size="10.3" fill="#000" textLength="58.17" lengthAdjust="spacingAndGlyphs" stroke="#000" stroke-width="0.2">13 May 10:55</text>
<rect x="375" y="924" width="1" height="3" fill="#000"/>
<text x="374" y="936" font-size="10.3" fill="#000" textLength="58.17" lengthAdjust="spacingAndGlyphs" stroke="#000" stroke-width="0.2">16 May 18:55</text>
<rect x="439" y="924" width="1" height="3" fill="#000"/>
<text x="438" y="936" font-size="10.3" fill="#000" textLength="58.17" lengthAdjust="spacingAndGlyphs" stroke="#000" stroke-width="0.2">18 May 00:00</text>
<rect x="503" y="924" width="1" height="3" fill="#000"/>
<text x="502" y="936" font-size="10.3" fill="#000" textLength="58.17" lengthAdjust="spacingAndGlyphs" stroke="#000" stroke-width="0.2">19 May 10:55</text>
<rect x="567" y="924" width="1" height="3" fill="#000"/>
<text x="566" y="936" font-size="10.3" fill="#000" textLength="58.17" lengthAdjust="spacingAndGlyphs" stroke="#000" stroke-width="0.2">20 May 18:55</text>
<rect x="631" y="924" width="1" height="3" fill="#000"/>
<text x="630" y="936" font-size="10.3" fill="#000" textLength="58.17" lengthAdjust="spacingAndGlyphs" stroke="#000" stroke-width="0.2">24 May 00:00</text>
<rect x="695" y="924" width="1" height="3" fill="#000"/>
<text x="694" y="936" font-size="10.3" fill="#000" textLength="58.17" lengthAdjust="spacingAndGlyphs" stroke="#000" stroke-width="0.2">25 May 10:55</text>
<rect x="759" y="924" width="1" height="3" fill="#000"/>
<text x="758" y="936" font-size="10.3" fill="#000" textLength="58.17" lengthAdjust="spacingAndGlyphs" stroke="#000" stroke-width="0.2">26 May 18:55</text>
<rect x="823" y="924" width="1" height="3" fill="#000"/>
<text x="822" y="936" font-size="10.3" fill="#000" textLength="58.17" lengthAdjust="spacingAndGlyphs" stroke="#000" stroke-width="0.2">30 May 00:00</text>
<rect x="887" y="924" width="1" height="3" fill="#000"/>
<text x="886" y="936" font-size="10.3" fill="#000" textLength="58.17" lengthAdjust="spacingAndGlyphs" stroke="#000" stroke-width="0.2">31 May 10:55</text>
<rect x="951" y="924" width="1" height="3" fill="#000"/>
<text x="950" y="936" font-size="10.3" fill="#000" textLength="50.17" lengthAdjust="spacingAndGlyphs" stroke="#000" stroke-width="0.2">1 Jun 18:55</text>
<rect x="1015" y="924" width="1" height="3" fill="#000"/>
<text x="1014" y="936" font-size="10.3" fill="#000" textLength="50.17" lengthAdjust="spacingAndGlyphs" stroke="#000" stroke-width="0.2">3 Jun 00:00</text>
<rect x="1079" y="924" width="1" height="3" fill="#000"/>
<text x="1078" y="936" font-size="10.3" fill="#000" textLength="50.17" lengthAdjust="spacingAndGlyphs" stroke="#000" stroke-width="0.2">6 Jun 10:55</text>
<rect x="1143" y="924" width="1" height="3" fill="#000"/>
<text x="1142" y="936" font-size="10.3" fill="#000" textLength="50.17" lengthAdjust="spacingAndGlyphs" stroke="#000" stroke-width="0.2">7 Jun 17:00</text>
<rect x="1207" y="924" width="1" height="3" fill="#000"/>
<text x="1206" y="936" font-size="10.3" fill="#000" textLength="50.17" lengthAdjust="spacingAndGlyphs" stroke="#000" stroke-width="0.2">9 Jun 00:00</text>
<rect x="1271" y="924" width="1" height="3" fill="#000"/>
<text x="1270" y="936" font-size="10.3" fill="#000" textLength="55.51" lengthAdjust="spacingAndGlyphs" stroke="#000" stroke-width="0.2">10 Jun 10:55</text>
<rect x="1335" y="924" width="1" height="3" fill="#000"/>
<text x="1334" y="936" font-size="10.3" fill="#000" textLength="55.51" lengthAdjust="spacingAndGlyphs" stroke="#000" stroke-width="0.2">13 Jun 18:55</text>
<text x="-10.5" y="936" font-size="10.3" fill="#000" textLength="50.17" lengthAdjust="spacingAndGlyphs" stroke="#000" stroke-width="0.2">5 May 2022</text>
<text x="6" y="34" font-size="10.3" fill="#000" textLength="198.5" lengthAdjust="spacingAndGlyphs" stroke="#000" stroke-width="0.2">JPN225-,H4  26302.5 26422.5 26242.5 26410.0</text>
<rect x="0" y="31" width="1" height="2" fill="#000"/>
<polygon points="1395,23 1404,23 1399.5,28" fill="#b4b4b4"/>
<rect x="0" y="66" width="103" height="33" fill="url(#gPrice)"/>
<rect x="105" y="66" width="108" height="33" fill="url(#gPrice)"/>
<rect x="45" y="66" width="58" height="1" fill="#c00000"/>
<rect x="105" y="66" width="56" height="1" fill="#c00000"/>
<rect x="0" y="42" width="46" height="25" fill="#c00000"/>
<rect x="0" y="43" width="45" height="22" fill="url(#gBtn)"/>
<rect x="0" y="65" width="42" height="1" fill="#8b0000"/>
<rect x="0" y="66" width="42" height="1" fill="#f26a6a"/>
<rect x="161" y="42" width="52" height="25" fill="#c00000"/>
<rect x="162" y="43" width="50" height="22" fill="url(#gBtn)"/>
<rect x="165" y="65" width="45" height="1" fill="#8b0000"/>
<rect x="165" y="66" width="45" height="1" fill="#f26a6a"/>
<rect x="48" y="42" width="111" height="22" fill="#a7abb0"/>
<rect x="49" y="43" width="109" height="20" fill="#ffffff"/>
<rect x="50" y="44" width="19" height="18" fill="url(#gSpin)"/>
<rect x="69" y="43" width="1" height="20" fill="#a7abb0"/>
<rect x="137" y="43" width="1" height="20" fill="#a7abb0"/>
<rect x="138" y="44" width="19" height="18" fill="url(#gSpin)"/>
<polygon points="56,51 61,51 58.5,54" fill="#4055c0"/>
<polygon points="145,54 150,54 147.5,51" fill="#4055c0"/>
<rect x="4" y="54" width="1" height="1" fill="#40c8c8"/><rect x="3" y="55" width="1" height="1" fill="#40c8c8"/><rect x="5" y="55" width="1" height="1" fill="#40c8c8"/><rect x="4" y="56" width="1" height="1" fill="#40c8c8"/>

<text x="6.3" y="58.1" font-size="12.2" fill="#fff" textLength="25.4" lengthAdjust="spacingAndGlyphs">SELL</text>
<text x="174" y="58.1" font-size="12.2" fill="#fff" textLength="24.5" lengthAdjust="spacingAndGlyphs">BUY</text>
<text x="110" y="57.1" font-size="12.6" fill="#000" textLength="24.6" lengthAdjust="spacingAndGlyphs">1.00</text>
<text x="9.8" y="94" font-size="12.6" fill="#fff" textLength="35.2" lengthAdjust="spacingAndGlyphs" font-weight="bold">26408</text>
<rect x="50" y="90" width="3" height="4" fill="#fff"/>
<rect x="49" y="91" width="5" height="2" fill="#fff"/>
<text x="55.9" y="94" font-size="35" fill="#fff" textLength="17.2" lengthAdjust="spacingAndGlyphs" stroke="url(#gPriceU)" stroke-width="0.8" shape-rendering="geometricPrecision">5</text>
<text x="119.6" y="94" font-size="12.6" fill="#fff" textLength="35.2" lengthAdjust="spacingAndGlyphs" font-weight="bold">26431</text>
<rect x="161" y="90" width="3" height="4" fill="#fff"/>
<rect x="160" y="91" width="5" height="2" fill="#fff"/>
<text x="166.6" y="94" font-size="35" fill="#fff" textLength="17.2" lengthAdjust="spacingAndGlyphs" stroke="url(#gPriceU)" stroke-width="0.8" shape-rendering="geometricPrecision">5</text>
<g shape-rendering="geometricPrecision">
<path d="M0,9.5 L1.5,9.5 L4,14 L3,15.5 Z" fill="#d7a520"/>
<rect x="11" y="0" width="1" height="18" fill="#a0a0a0"/>
<rect x="12" y="0" width="1" height="18" fill="#ffffff"/>
<path d="M21.5,0 L31.5,0 L31.5,11.5 L21.5,11.5 Z" fill="#fff" stroke="#707070"/>
<path d="M23,2.5h6M23,4.5h6M23,6.5h4" stroke="#9a9a9a" shape-rendering="crispEdges"/>
<path d="M29,5h3v4h4v3h-4v4h-3v-4h-4v-3h4z" fill="#17c117" stroke="#0a7a0a" stroke-width="0.8"/>
<g stroke="#111" stroke-width="1" fill="none" shape-rendering="crispEdges"><path d="M43.5,-1v2M40,1.5h7M41.5,2v2M45.5,2v2M40,4.5h7M40,6.5h7M43.5,4v7M43,7l-3,3M44,7l3,3M51,0.5l-3,1M48.5,1v10M48,4.5h5M50.5,4v7"/><path d="M54.5,-0.5l1.5,1.5M54.5,3v6l1.5,-1.5M57,1.5h8M62.5,1v9l-1.5,-1"/><path d="M68.5,-1l1,1.5M73.5,-1l-1,1.5M67.5,1.5h8v5h-8zM67.5,4h8M71.5,1v10M66,8.5h11"/></g>
<path d="M89,6 L95,0 L104,6 L98,13 Z" fill="#e0b030" stroke="#9a6a10" stroke-width="0.8"/>
<path d="M89,6 L98,13 L98,14.5 L88.5,7.5Z" fill="#b07818"/>
<rect x="118" y="0" width="8" height="7" fill="#3c8ee8"/><path d="M119,2h5M119,4h5" stroke="#fff"/>
<path d="M117,12 Q116,8 120,8 Q121,5 125,6.5 Q129,5.5 130,9 Q132,12 129,13 L118.5,13 Q117,13 117,12Z" fill="#e8eef8" stroke="#8a9ab0" stroke-width="0.8"/>
<circle cx="152" cy="5.5" r="6.5" fill="none" stroke="#8ab0e0" stroke-width="1"/><circle cx="152" cy="5.5" r="4.2" fill="none" stroke="#6c9ad8" stroke-width="1"/><circle cx="152" cy="5.5" r="1.6" fill="#2a5ac0"/><path d="M152,6v7.5" stroke="#3aa03a" stroke-width="1.2"/><path d="M155,11 A6.5,6.5 0 0 0 158.5,5.5" stroke="#5cb85c" fill="none" stroke-width="1.3"/>
<ellipse cx="179" cy="2.5" rx="7" ry="3" fill="#5aa8e0"/><path d="M172,4 L186,4 L182,12 L177,12Z" fill="#f2d24a"/><circle cx="183" cy="9.5" r="4.3" fill="#d82010"/><rect x="181.5" y="8" width="3" height="3" fill="#fff"/>
<g stroke="#111" stroke-width="1" fill="none" shape-rendering="crispEdges"><path d="M197.5,-1v2M194.5,1.5h8v9h-8zM194.5,4.5h8M194.5,7.5h8"/><path d="M205,1.5h5M204,3.5h7M207.5,4l-2,5M205,9.5h5M209,7l1.5,2.5M211,3.5h5.5v6l-1.5,1M213.5,0v5l-2,5"/><path d="M222.5,-1v2M217,1.5h12M220,3l-1.5,2M225,3l1.5,2M219,5l8,5.5M226,5l-8,5.5"/><path d="M230.5,-1h7v6h-7zM230.5,2h7M230,6.5h8.5v4l-1.5,-0.5M232.5,6.5l-3,4M235,6.5l-2.5,4"/></g>
<rect x="247" y="0" width="1" height="18" fill="#a0a0a0"/>
<rect x="248" y="0" width="1" height="18" fill="#ffffff"/>
<rect x="251" y="1" width="4" height="1" fill="#a0a0a0"/>
<rect x="251" y="3" width="4" height="1" fill="#a0a0a0"/>
<rect x="251" y="5" width="4" height="1" fill="#a0a0a0"/>
<rect x="251" y="7" width="4" height="1" fill="#a0a0a0"/>
<rect x="251" y="9" width="4" height="1" fill="#a0a0a0"/>
<rect x="251" y="11" width="4" height="1" fill="#a0a0a0"/>
<rect x="251" y="13" width="4" height="1" fill="#a0a0a0"/>
<rect x="251" y="15" width="4" height="1" fill="#a0a0a0"/>
<path d="M265.5,0.5v13M263,11.5h13.5" stroke="#555" stroke-width="1.2" fill="none"/><path d="M274,9.5l2.5,2l-2.5,2" stroke="#555" fill="none"/>
<path d="M271.5,1.5v7.5M271.5,2.5h2.5M269,8.5h2.5" stroke="#1aa01a" stroke-width="1.2" fill="none"/>
<rect x="285" y="0" width="1" height="18" fill="#a0a0a0"/>
<rect x="286" y="0" width="1" height="18" fill="#ffffff"/>
<rect x="286" y="0" width="24" height="16" fill="url(#pSel)"/>
<rect x="285" y="16" width="26" height="1" fill="#ffffff"/>
<path d="M293.5,0.5v13M291,11.5h13.5" stroke="#555" stroke-width="1.2" fill="none"/><path d="M302,9.5l2.5,2l-2.5,2" stroke="#555" fill="none"/>
<rect x="297.5" y="0" width="4" height="7.5" fill="#32d032" stroke="#0a800a"/><path d="M299.5,7.5v2.5" stroke="#0a800a" stroke-width="1.3"/>
<path d="M321.5,0.5v13M319,11.5h13.5" stroke="#555" stroke-width="1.2" fill="none"/><path d="M330,9.5l2.5,2l-2.5,2" stroke="#555" fill="none"/>
<path d="M321,9 L327,3 L331,5 L333.5,7.5" stroke="#2a9a2a" stroke-width="1" fill="none"/>
<rect x="342" y="0" width="1" height="18" fill="#a0a0a0"/>
<rect x="343" y="0" width="1" height="18" fill="#ffffff"/>
<circle cx="357" cy="4" r="4.8" fill="#e8f2ff" stroke="#3b78d0" stroke-width="1.2"/><path d="M360.5,7.5 L365,12" stroke="#c8a018" stroke-width="2.6"/>
<path d="M354.5,4h5" stroke="#3b78d0" stroke-width="1.5"/>
<path d="M357,1.5v5" stroke="#3b78d0" stroke-width="1.5"/>
<circle cx="385" cy="4" r="4.8" fill="#e8f2ff" stroke="#3b78d0" stroke-width="1.2"/><path d="M388.5,7.5 L393,12" stroke="#c8a018" stroke-width="2.6"/>
<path d="M382.5,4h5" stroke="#3b78d0" stroke-width="1.5"/>
<rect x="407" y="0" width="8" height="6.5" fill="#3aa83a"/><rect x="415.5" y="0" width="8" height="6.5" fill="#2a60d8"/><rect x="407" y="7" width="8" height="6.5" fill="#2a60d8"/><rect x="415.5" y="7" width="8" height="6.5" fill="#3aa83a"/>
<path d="M408.5,2.5h5M417,2.5h5M408.5,9.5h5M417,9.5h5M408.5,4.5h5M417,4.5h5M408.5,11.5h5M417,11.5h5" stroke="#fff" stroke-width="1"/>
<rect x="432" y="0" width="1" height="18" fill="#a0a0a0"/>
<rect x="433" y="0" width="1" height="18" fill="#ffffff"/>
<rect x="437" y="0" width="26" height="16" fill="url(#pSel)"/>
<rect x="436" y="16" width="28" height="1" fill="#ffffff"/>
<path d="M445.5,0.5v13M443,11.5h13.5" stroke="#555" stroke-width="1.2" fill="none"/><path d="M454,9.5l2.5,2l-2.5,2" stroke="#555" fill="none"/>
<polygon points="450,2 450,9 455,5.5" fill="#20c020" stroke="#108010" stroke-width="0.6"/>
<rect x="465" y="0" width="1" height="18" fill="#a0a0a0"/>
<rect x="466" y="0" width="1" height="18" fill="#ffffff"/>
<rect x="467" y="0" width="24" height="16" fill="url(#pSel)"/>
<rect x="466" y="16" width="26" height="1" fill="#ffffff"/>
<path d="M473.5,0.5v13M471,11.5h13.5" stroke="#555" stroke-width="1.2" fill="none"/><path d="M482,9.5l2.5,2l-2.5,2" stroke="#555" fill="none"/>
<path d="M479.5,0v10" stroke="#1a6ab0" stroke-width="1.2"/><path d="M480,5.5 L485,3.5 L484,5.5 L485,7.5Z" fill="#e05010"/>
<rect x="494" y="0" width="1" height="18" fill="#a0a0a0"/>
<rect x="495" y="0" width="1" height="18" fill="#ffffff"/>
<path d="M504.5,0.5 L512.5,0.5 L512.5,11.5 L504.5,11.5 Z" fill="#fff" stroke="#707070"/>
<path d="M512,6h3v4h4v3h-4v4h-3v-4h-4v-3h4z" fill="#17c117" stroke="#0a7a0a" stroke-width="0.8"/>
<polygon points="526,5 532,5 529,8" fill="#000"/>
<circle cx="550" cy="6" r="7.5" fill="#2a6ad0"/><circle cx="550" cy="6" r="5.5" fill="#f4f8ff"/><path d="M550,2v4h3" stroke="#222" stroke-width="1.1" fill="none"/>
<polygon points="565,5 571,5 568,8" fill="#000"/>
<rect x="581.5" y="0" width="16" height="12.5" fill="#fff" stroke="#3a70c0"/><rect x="582" y="0" width="15" height="1.5" fill="#5a90e0"/><path d="M582,6h15" stroke="#3a70c0"/><path d="M583,4.5l3,-1l3,1l3,-1.5l3,1" stroke="#a02010" fill="none"/><path d="M583,10.5l3,-1.5l3,1l3,-2l3,2" stroke="#10a010" fill="none"/>
<polygon points="604,5 610,5 607,8" fill="#000"/>
<rect x="615" y="0" width="1" height="18" fill="#a0a0a0"/>
<rect x="616" y="0" width="1" height="18" fill="#ffffff"/>
<rect x="619" y="1" width="4" height="1" fill="#a0a0a0"/>
<rect x="619" y="3" width="4" height="1" fill="#a0a0a0"/>
<rect x="619" y="5" width="4" height="1" fill="#a0a0a0"/>
<rect x="619" y="7" width="4" height="1" fill="#a0a0a0"/>
<rect x="619" y="9" width="4" height="1" fill="#a0a0a0"/>
<rect x="619" y="11" width="4" height="1" fill="#a0a0a0"/>
<rect x="619" y="13" width="4" height="1" fill="#a0a0a0"/>
<rect x="619" y="15" width="4" height="1" fill="#a0a0a0"/>
<rect x="625" y="0" width="1" height="16" fill="#a0a0a0"/>
<rect x="626" y="0" width="25" height="16" fill="url(#pSel)"/>
<rect x="625" y="16" width="27" height="1" fill="#ffffff"/>
<path d="M633,0 L633,11 L635.5,8.5 L637.5,13 L639.5,12 L637.5,7.5 L641,7.5 Z" fill="#444"/>
<path d="M658,6.5h15M665.5,0v14" stroke="#444" stroke-width="1"/>
<rect x="682" y="0" width="1" height="18" fill="#a0a0a0"/>
<rect x="683" y="0" width="1" height="18" fill="#ffffff"/>
<path d="M699.5,0v13" stroke="#444" stroke-width="1"/>
<path d="M722,6.5h12" stroke="#444" stroke-width="1"/>
<path d="M750,13 L762,1" stroke="#444" stroke-width="1"/>
<path d="M776.5,9.5 L787,-0.5M780,12.5 L790.5,2.5M778,6.5l3,3M781,3.5l3,3M784,0.5l3,3" stroke="#505050" stroke-width="1.4" fill="none"/>
<text x="786.5" y="15" font-size="6.5" fill="#444" font-weight="bold">E</text>
<path d="M805,2.5h13M805,6.5h13M805,10.5h8" stroke="#444" stroke-width="1" stroke-dasharray="1,1" shape-rendering="crispEdges"/>
<text x="814" y="15" font-size="6.5" fill="#444" font-weight="bold">F</text>
<text x="834.5" y="11.3" font-size="12.5" fill="#555">A</text>
<rect x="862.5" y="0.5" width="12" height="12" fill="none" stroke="#555" stroke-dasharray="1,1" shape-rendering="crispEdges"/>
<text x="864.3" y="11.3" font-size="11.5" fill="#444" font-weight="bold">T</text>
<path d="M891,3l3,-3l3,3l-3,3zM895,11l3,-3l3,3l-3,3zM893,6l2,2l4,-5" fill="#444" stroke="#444" stroke-width="0.5"/>
<polygon points="909,5 915,5 912,8" fill="#000"/>
<rect x="921" y="0" width="1" height="18" fill="#a0a0a0"/>
<rect x="922" y="0" width="1" height="18" fill="#ffffff"/>
<rect x="925" y="1" width="4" height="1" fill="#a0a0a0"/>
<rect x="925" y="3" width="4" height="1" fill="#a0a0a0"/>
<rect x="925" y="5" width="4" height="1" fill="#a0a0a0"/>
<rect x="925" y="7" width="4" height="1" fill="#a0a0a0"/>
<rect x="925" y="9" width="4" height="1" fill="#a0a0a0"/>
<rect x="925" y="11" width="4" height="1" fill="#a0a0a0"/>
<rect x="925" y="13" width="4" height="1" fill="#a0a0a0"/>
<rect x="925" y="15" width="4" height="1" fill="#a0a0a0"/>
<text x="936.5" y="10.4" font-size="10.5" fill="#333" textLength="13" lengthAdjust="spacingAndGlyphs">M1</text>
<text x="964.5" y="10.4" font-size="10.5" fill="#333" textLength="12.5" lengthAdjust="spacingAndGlyphs">M5</text>
<text x="990.5" y="10.4" font-size="10.5" fill="#333" textLength="18" lengthAdjust="spacingAndGlyphs">M15</text>
<text x="1018.5" y="10.4" font-size="10.5" fill="#333" textLength="17.5" lengthAdjust="spacingAndGlyphs">M30</text>
<text x="1049" y="10.4" font-size="10.5" fill="#333" textLength="12" lengthAdjust="spacingAndGlyphs">H1</text>
<rect x="1071" y="0" width="1" height="18" fill="#a0a0a0"/>
<rect x="1072" y="0" width="1" height="18" fill="#ffffff"/>
<rect x="1072" y="0" width="25" height="16" fill="url(#pSel)"/>
<rect x="1071" y="16" width="27" height="1" fill="#ffffff"/>
<text x="1076" y="10.4" font-size="10.5" fill="#333" textLength="13" lengthAdjust="spacingAndGlyphs">H4</text>
<text x="1105" y="10.4" font-size="10.5" fill="#333" textLength="12" lengthAdjust="spacingAndGlyphs">D1</text>
<text x="1133" y="10.4" font-size="10.5" fill="#333" textLength="15" lengthAdjust="spacingAndGlyphs">W1</text>
<text x="1159" y="10.4" font-size="10.5" fill="#333" textLength="15" lengthAdjust="spacingAndGlyphs">MN</text>
<rect x="1182" y="0" width="1" height="18" fill="#a0a0a0"/>
<rect x="1183" y="0" width="1" height="18" fill="#ffffff"/>
<circle cx="1652" cy="3.5" r="3.8" fill="#fff" stroke="#2a62d0" stroke-width="1.5"/><path d="M1649,6.5 L1645,10.5" stroke="#2a62d0" stroke-width="2.2"/>
<ellipse cx="1675" cy="8" rx="6.5" ry="5" fill="#dcdce4" stroke="#b8b8c0"/><path d="M1672,12 L1672,15 L1675,12Z" fill="#c8c8d0"/>
<circle cx="1684" cy="3.5" r="8.3" fill="#e02a10"/>
<text x="1681" y="8" font-size="10" fill="#fff" font-weight="bold">1</text>
</g>
</svg></body></html>
